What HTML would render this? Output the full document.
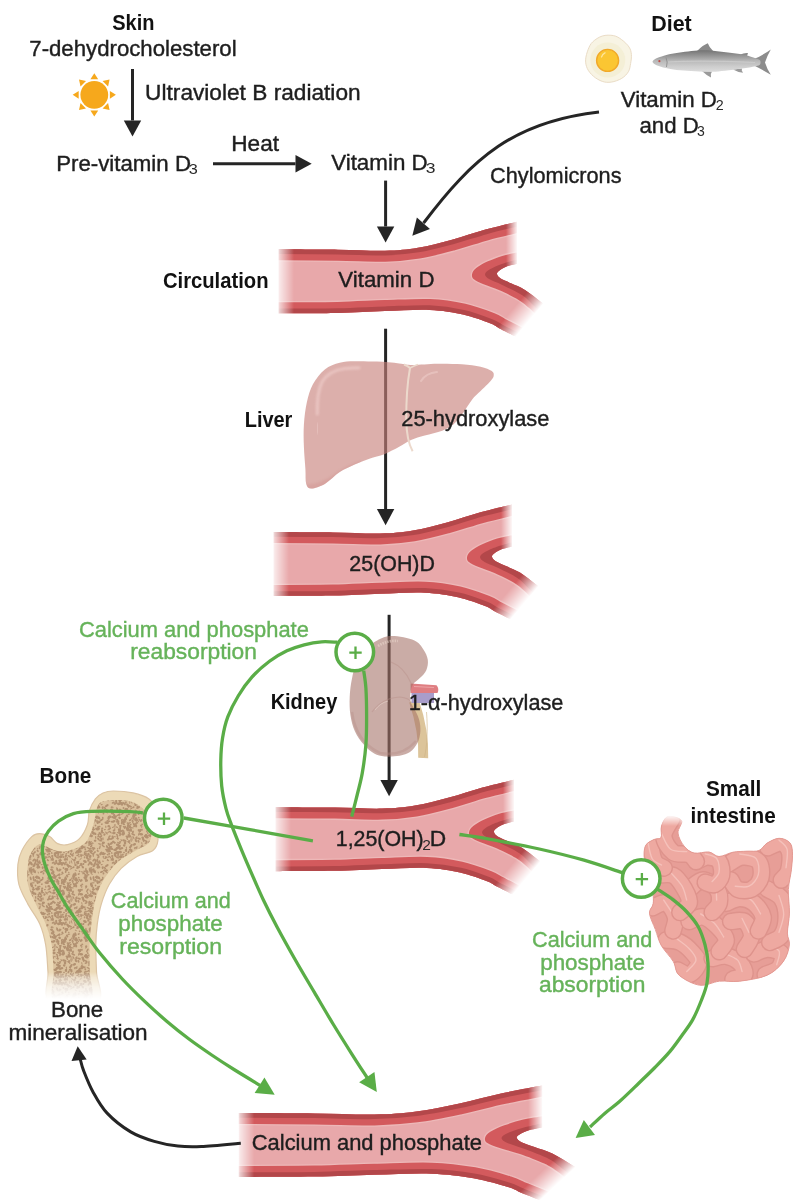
<!DOCTYPE html>
<html><head><meta charset="utf-8"><style>
html,body{margin:0;padding:0;background:#fff;}
svg{display:block;will-change:transform;}
text{font-family:"Liberation Sans",sans-serif;}
</style></head><body>
<svg width="806" height="1204" viewBox="0 0 806 1204">
<rect width="806" height="1204" fill="#fff"/>

<defs>
 <clipPath id="vc1"><path d="M278.00,249.30 C288.00,249.37 320.17,249.47 338.00,249.70 C355.83,249.93 371.67,251.03 385.00,250.70 C398.33,250.37 406.83,249.53 418.00,247.70 C429.17,245.87 440.75,242.72 452.00,239.70 C463.25,236.68 474.67,232.58 485.50,229.60 C496.33,226.62 511.75,223.10 517.00,221.80 L517.00,263.70 C515.17,264.20 508.97,265.53 506.00,266.70 C503.03,267.87 500.70,269.47 499.20,270.70 C497.70,271.93 496.75,272.78 497.00,274.10 C497.25,275.42 498.37,277.07 500.70,278.60 C503.03,280.13 506.95,281.42 511.00,283.30 C515.05,285.18 520.00,286.80 525.00,289.90 C530.00,293.00 536.33,298.33 541.00,301.90 C545.67,305.47 551.00,309.73 553.00,311.30 L548.00,353.30 C542.33,350.38 522.00,339.90 514.00,335.80 C506.00,331.70 504.00,330.78 500.00,328.70 C496.00,326.62 496.17,325.67 490.00,323.30 C483.83,320.93 473.05,316.72 463.00,314.50 C452.95,312.28 442.70,310.57 429.70,310.00 C416.70,309.43 400.28,310.62 385.00,311.10 C369.72,311.58 355.83,312.53 338.00,312.90 C320.17,313.27 288.00,313.23 278.00,313.30 Z"/></clipPath>
 <linearGradient id="vgl1" gradientUnits="userSpaceOnUse" x1="278.0" y1="0" x2="294.0" y2="0"><stop offset="0" stop-color="#000"/><stop offset="0.1" stop-color="#444"/><stop offset="1" stop-color="#fff"/></linearGradient>
 <linearGradient id="vgu1" gradientUnits="userSpaceOnUse" x1="506.0" y1="0" x2="518.0" y2="0"><stop offset="0" stop-color="#fff"/><stop offset="1" stop-color="#000"/></linearGradient>
 <linearGradient id="vgd1" gradientUnits="userSpaceOnUse" x1="513.5" y1="308.1" x2="528.8" y2="321.0"><stop offset="0" stop-color="#fff"/><stop offset="1" stop-color="#000"/></linearGradient>
 <mask id="vm1" maskUnits="userSpaceOnUse" x="0" y="0" width="806" height="1204">
  <rect x="273.0" y="209.3" width="130.0" height="150" fill="url(#vgl1)"/>
  <rect x="396.0" y="209.3" width="180.0" height="70.0" fill="url(#vgu1)"/>
  <rect x="396.0" y="274.3" width="180.0" height="90" fill="url(#vgd1)"/>
 </mask>
</defs>
<g mask="url(#vm1)"><g clip-path="url(#vc1)">
 <path d="M278.00,249.30 C288.00,249.37 320.17,249.47 338.00,249.70 C355.83,249.93 371.67,251.03 385.00,250.70 C398.33,250.37 406.83,249.53 418.00,247.70 C429.17,245.87 440.75,242.72 452.00,239.70 C463.25,236.68 474.67,232.58 485.50,229.60 C496.33,226.62 511.75,223.10 517.00,221.80 L517.00,263.70 C515.17,264.20 508.97,265.53 506.00,266.70 C503.03,267.87 500.70,269.47 499.20,270.70 C497.70,271.93 496.75,272.78 497.00,274.10 C497.25,275.42 498.37,277.07 500.70,278.60 C503.03,280.13 506.95,281.42 511.00,283.30 C515.05,285.18 520.00,286.80 525.00,289.90 C530.00,293.00 536.33,298.33 541.00,301.90 C545.67,305.47 551.00,309.73 553.00,311.30 L548.00,353.30 C542.33,350.38 522.00,339.90 514.00,335.80 C506.00,331.70 504.00,330.78 500.00,328.70 C496.00,326.62 496.17,325.67 490.00,323.30 C483.83,320.93 473.05,316.72 463.00,314.50 C452.95,312.28 442.70,310.57 429.70,310.00 C416.70,309.43 400.28,310.62 385.00,311.10 C369.72,311.58 355.83,312.53 338.00,312.90 C320.17,313.27 288.00,313.23 278.00,313.30 Z" fill="#e8a8aa"/>
 <path d="M264.00,249.21 L278.00,249.30 C288.00,249.37 320.17,249.47 338.00,249.70 C355.83,249.93 371.67,251.03 385.00,250.70 C398.33,250.37 406.83,249.53 418.00,247.70 C429.17,245.87 440.75,242.72 452.00,239.70 C463.25,236.68 474.67,232.58 485.50,229.60 C496.33,226.62 511.75,223.10 517.00,221.80 L530.59,218.43 M560.45,359.71 L548.00,353.30 C542.33,350.38 522.00,339.90 514.00,335.80 C506.00,331.70 504.00,330.78 500.00,328.70 C496.00,326.62 496.17,325.67 490.00,323.30 C483.83,320.93 473.05,316.72 463.00,314.50 C452.95,312.28 442.70,310.57 429.70,310.00 C416.70,309.43 400.28,310.62 385.00,311.10 C369.72,311.58 355.83,312.53 338.00,312.90 C320.17,313.27 288.00,313.23 278.00,313.30 L264.00,313.39" fill="none" stroke="#edb8b8" stroke-width="24.6"/>
 <path d="M264.00,249.21 L278.00,249.30 C288.00,249.37 320.17,249.47 338.00,249.70 C355.83,249.93 371.67,251.03 385.00,250.70 C398.33,250.37 406.83,249.53 418.00,247.70 C429.17,245.87 440.75,242.72 452.00,239.70 C463.25,236.68 474.67,232.58 485.50,229.60 C496.33,226.62 511.75,223.10 517.00,221.80 L530.59,218.43 M560.45,359.71 L548.00,353.30 C542.33,350.38 522.00,339.90 514.00,335.80 C506.00,331.70 504.00,330.78 500.00,328.70 C496.00,326.62 496.17,325.67 490.00,323.30 C483.83,320.93 473.05,316.72 463.00,314.50 C452.95,312.28 442.70,310.57 429.70,310.00 C416.70,309.43 400.28,310.62 385.00,311.10 C369.72,311.58 355.83,312.53 338.00,312.90 C320.17,313.27 288.00,313.23 278.00,313.30 L264.00,313.39" fill="none" stroke="#d35a5d" stroke-width="22"/>
 <path d="M264.00,249.21 L278.00,249.30 C288.00,249.37 320.17,249.47 338.00,249.70 C355.83,249.93 371.67,251.03 385.00,250.70 C398.33,250.37 406.83,249.53 418.00,247.70 C429.17,245.87 440.75,242.72 452.00,239.70 C463.25,236.68 474.67,232.58 485.50,229.60 C496.33,226.62 511.75,223.10 517.00,221.80 L530.59,218.43 M560.45,359.71 L548.00,353.30 C542.33,350.38 522.00,339.90 514.00,335.80 C506.00,331.70 504.00,330.78 500.00,328.70 C496.00,326.62 496.17,325.67 490.00,323.30 C483.83,320.93 473.05,316.72 463.00,314.50 C452.95,312.28 442.70,310.57 429.70,310.00 C416.70,309.43 400.28,310.62 385.00,311.10 C369.72,311.58 355.83,312.53 338.00,312.90 C320.17,313.27 288.00,313.23 278.00,313.30 L264.00,313.39" fill="none" stroke="#b3474a" stroke-width="9.4"/>
 <path d="M517.10,252.50 C514.62,253.07 507.17,254.38 502.20,255.90 C497.23,257.42 491.63,259.57 487.30,261.60 C482.97,263.63 478.73,266.02 476.20,268.10 C473.67,270.18 472.48,272.23 472.10,274.10 C471.72,275.97 471.98,277.60 473.90,279.30 C475.82,281.00 479.33,282.47 483.60,284.30 C487.87,286.13 493.67,287.70 499.50,290.30 C505.33,292.90 513.55,296.85 518.60,299.90 C523.65,302.95 526.23,305.37 529.80,308.60 C533.37,311.83 538.30,317.52 540.00,319.30" fill="none" stroke="#edb8b8" stroke-width="2.8"/>
 <path d="M598.00,232.50 L547.10,232.50 L517.10,252.50 C514.62,253.07 507.17,254.38 502.20,255.90 C497.23,257.42 491.63,259.57 487.30,261.60 C482.97,263.63 478.73,266.02 476.20,268.10 C473.67,270.18 472.48,272.23 472.10,274.10 C471.72,275.97 471.98,277.60 473.90,279.30 C475.82,281.00 479.33,282.47 483.60,284.30 C487.87,286.13 493.67,287.70 499.50,290.30 C505.33,292.90 513.55,296.85 518.60,299.90 C523.65,302.95 526.23,305.37 529.80,308.60 C533.37,311.83 538.30,317.52 540.00,319.30 L598.00,319.30 Z" fill="#d35a5d"/>
 <path d="M598.00,239.80 L547.00,239.80 L517.00,259.80 C516.28,259.95 515.78,259.80 512.70,260.70 C509.62,261.60 502.62,263.57 498.50,265.20 C494.38,266.83 490.23,268.88 488.00,270.50 C485.77,272.12 484.83,273.43 485.10,274.90 C485.37,276.37 486.75,277.63 489.60,279.30 C492.45,280.97 496.75,282.23 502.20,284.90 C507.65,287.57 517.08,291.85 522.30,295.30 C527.52,298.75 530.05,302.27 533.50,305.60 C536.95,308.93 541.42,313.68 543.00,315.30 L598.00,315.30 Z" fill="#b3474a"/>
</g></g>

<defs>
 <clipPath id="vc2"><path d="M273.00,532.00 C283.00,532.07 315.17,532.17 333.00,532.40 C350.83,532.63 366.67,533.73 380.00,533.40 C393.33,533.07 401.83,532.23 413.00,530.40 C424.17,528.57 435.75,525.42 447.00,522.40 C458.25,519.38 469.67,515.28 480.50,512.30 C491.33,509.32 506.75,505.80 512.00,504.50 L512.00,546.40 C510.17,546.90 503.97,548.23 501.00,549.40 C498.03,550.57 495.70,552.17 494.20,553.40 C492.70,554.63 491.75,555.48 492.00,556.80 C492.25,558.12 493.37,559.77 495.70,561.30 C498.03,562.83 501.95,564.12 506.00,566.00 C510.05,567.88 515.00,569.50 520.00,572.60 C525.00,575.70 531.33,581.03 536.00,584.60 C540.67,588.17 546.00,592.43 548.00,594.00 L543.00,636.00 C537.33,633.08 517.00,622.60 509.00,618.50 C501.00,614.40 499.00,613.48 495.00,611.40 C491.00,609.32 491.17,608.37 485.00,606.00 C478.83,603.63 468.05,599.42 458.00,597.20 C447.95,594.98 437.70,593.27 424.70,592.70 C411.70,592.13 395.28,593.32 380.00,593.80 C364.72,594.28 350.83,595.23 333.00,595.60 C315.17,595.97 283.00,595.93 273.00,596.00 Z"/></clipPath>
 <linearGradient id="vgl2" gradientUnits="userSpaceOnUse" x1="273.0" y1="0" x2="289.0" y2="0"><stop offset="0" stop-color="#000"/><stop offset="0.1" stop-color="#444"/><stop offset="1" stop-color="#fff"/></linearGradient>
 <linearGradient id="vgu2" gradientUnits="userSpaceOnUse" x1="501.0" y1="0" x2="513.0" y2="0"><stop offset="0" stop-color="#fff"/><stop offset="1" stop-color="#000"/></linearGradient>
 <linearGradient id="vgd2" gradientUnits="userSpaceOnUse" x1="508.5" y1="590.8" x2="523.8" y2="603.7"><stop offset="0" stop-color="#fff"/><stop offset="1" stop-color="#000"/></linearGradient>
 <mask id="vm2" maskUnits="userSpaceOnUse" x="0" y="0" width="806" height="1204">
  <rect x="268.0" y="492.0" width="130.0" height="150" fill="url(#vgl2)"/>
  <rect x="391.0" y="492.0" width="180.0" height="70.0" fill="url(#vgu2)"/>
  <rect x="391.0" y="557.0" width="180.0" height="90" fill="url(#vgd2)"/>
 </mask>
</defs>
<g mask="url(#vm2)"><g clip-path="url(#vc2)">
 <path d="M273.00,532.00 C283.00,532.07 315.17,532.17 333.00,532.40 C350.83,532.63 366.67,533.73 380.00,533.40 C393.33,533.07 401.83,532.23 413.00,530.40 C424.17,528.57 435.75,525.42 447.00,522.40 C458.25,519.38 469.67,515.28 480.50,512.30 C491.33,509.32 506.75,505.80 512.00,504.50 L512.00,546.40 C510.17,546.90 503.97,548.23 501.00,549.40 C498.03,550.57 495.70,552.17 494.20,553.40 C492.70,554.63 491.75,555.48 492.00,556.80 C492.25,558.12 493.37,559.77 495.70,561.30 C498.03,562.83 501.95,564.12 506.00,566.00 C510.05,567.88 515.00,569.50 520.00,572.60 C525.00,575.70 531.33,581.03 536.00,584.60 C540.67,588.17 546.00,592.43 548.00,594.00 L543.00,636.00 C537.33,633.08 517.00,622.60 509.00,618.50 C501.00,614.40 499.00,613.48 495.00,611.40 C491.00,609.32 491.17,608.37 485.00,606.00 C478.83,603.63 468.05,599.42 458.00,597.20 C447.95,594.98 437.70,593.27 424.70,592.70 C411.70,592.13 395.28,593.32 380.00,593.80 C364.72,594.28 350.83,595.23 333.00,595.60 C315.17,595.97 283.00,595.93 273.00,596.00 Z" fill="#e8a8aa"/>
 <path d="M259.00,531.91 L273.00,532.00 C283.00,532.07 315.17,532.17 333.00,532.40 C350.83,532.63 366.67,533.73 380.00,533.40 C393.33,533.07 401.83,532.23 413.00,530.40 C424.17,528.57 435.75,525.42 447.00,522.40 C458.25,519.38 469.67,515.28 480.50,512.30 C491.33,509.32 506.75,505.80 512.00,504.50 L525.59,501.13 M555.45,642.41 L543.00,636.00 C537.33,633.08 517.00,622.60 509.00,618.50 C501.00,614.40 499.00,613.48 495.00,611.40 C491.00,609.32 491.17,608.37 485.00,606.00 C478.83,603.63 468.05,599.42 458.00,597.20 C447.95,594.98 437.70,593.27 424.70,592.70 C411.70,592.13 395.28,593.32 380.00,593.80 C364.72,594.28 350.83,595.23 333.00,595.60 C315.17,595.97 283.00,595.93 273.00,596.00 L259.00,596.09" fill="none" stroke="#edb8b8" stroke-width="24.6"/>
 <path d="M259.00,531.91 L273.00,532.00 C283.00,532.07 315.17,532.17 333.00,532.40 C350.83,532.63 366.67,533.73 380.00,533.40 C393.33,533.07 401.83,532.23 413.00,530.40 C424.17,528.57 435.75,525.42 447.00,522.40 C458.25,519.38 469.67,515.28 480.50,512.30 C491.33,509.32 506.75,505.80 512.00,504.50 L525.59,501.13 M555.45,642.41 L543.00,636.00 C537.33,633.08 517.00,622.60 509.00,618.50 C501.00,614.40 499.00,613.48 495.00,611.40 C491.00,609.32 491.17,608.37 485.00,606.00 C478.83,603.63 468.05,599.42 458.00,597.20 C447.95,594.98 437.70,593.27 424.70,592.70 C411.70,592.13 395.28,593.32 380.00,593.80 C364.72,594.28 350.83,595.23 333.00,595.60 C315.17,595.97 283.00,595.93 273.00,596.00 L259.00,596.09" fill="none" stroke="#d35a5d" stroke-width="22"/>
 <path d="M259.00,531.91 L273.00,532.00 C283.00,532.07 315.17,532.17 333.00,532.40 C350.83,532.63 366.67,533.73 380.00,533.40 C393.33,533.07 401.83,532.23 413.00,530.40 C424.17,528.57 435.75,525.42 447.00,522.40 C458.25,519.38 469.67,515.28 480.50,512.30 C491.33,509.32 506.75,505.80 512.00,504.50 L525.59,501.13 M555.45,642.41 L543.00,636.00 C537.33,633.08 517.00,622.60 509.00,618.50 C501.00,614.40 499.00,613.48 495.00,611.40 C491.00,609.32 491.17,608.37 485.00,606.00 C478.83,603.63 468.05,599.42 458.00,597.20 C447.95,594.98 437.70,593.27 424.70,592.70 C411.70,592.13 395.28,593.32 380.00,593.80 C364.72,594.28 350.83,595.23 333.00,595.60 C315.17,595.97 283.00,595.93 273.00,596.00 L259.00,596.09" fill="none" stroke="#b3474a" stroke-width="9.4"/>
 <path d="M512.10,535.20 C509.62,535.77 502.17,537.08 497.20,538.60 C492.23,540.12 486.63,542.27 482.30,544.30 C477.97,546.33 473.73,548.72 471.20,550.80 C468.67,552.88 467.48,554.93 467.10,556.80 C466.72,558.67 466.98,560.30 468.90,562.00 C470.82,563.70 474.33,565.17 478.60,567.00 C482.87,568.83 488.67,570.40 494.50,573.00 C500.33,575.60 508.55,579.55 513.60,582.60 C518.65,585.65 521.23,588.07 524.80,591.30 C528.37,594.53 533.30,600.22 535.00,602.00" fill="none" stroke="#edb8b8" stroke-width="2.8"/>
 <path d="M593.00,515.20 L542.10,515.20 L512.10,535.20 C509.62,535.77 502.17,537.08 497.20,538.60 C492.23,540.12 486.63,542.27 482.30,544.30 C477.97,546.33 473.73,548.72 471.20,550.80 C468.67,552.88 467.48,554.93 467.10,556.80 C466.72,558.67 466.98,560.30 468.90,562.00 C470.82,563.70 474.33,565.17 478.60,567.00 C482.87,568.83 488.67,570.40 494.50,573.00 C500.33,575.60 508.55,579.55 513.60,582.60 C518.65,585.65 521.23,588.07 524.80,591.30 C528.37,594.53 533.30,600.22 535.00,602.00 L593.00,602.00 Z" fill="#d35a5d"/>
 <path d="M593.00,522.50 L542.00,522.50 L512.00,542.50 C511.28,542.65 510.78,542.50 507.70,543.40 C504.62,544.30 497.62,546.27 493.50,547.90 C489.38,549.53 485.23,551.58 483.00,553.20 C480.77,554.82 479.83,556.13 480.10,557.60 C480.37,559.07 481.75,560.33 484.60,562.00 C487.45,563.67 491.75,564.93 497.20,567.60 C502.65,570.27 512.08,574.55 517.30,578.00 C522.52,581.45 525.05,584.97 528.50,588.30 C531.95,591.63 536.42,596.38 538.00,598.00 L593.00,598.00 Z" fill="#b3474a"/>
</g></g>

<defs>
 <clipPath id="vc3"><path d="M275.00,807.20 C285.00,807.27 317.17,807.37 335.00,807.60 C352.83,807.83 368.67,808.93 382.00,808.60 C395.33,808.27 403.83,807.43 415.00,805.60 C426.17,803.77 437.75,800.62 449.00,797.60 C460.25,794.58 471.67,790.48 482.50,787.50 C493.33,784.52 508.75,781.00 514.00,779.70 L514.00,821.60 C512.17,822.10 505.97,823.43 503.00,824.60 C500.03,825.77 497.70,827.37 496.20,828.60 C494.70,829.83 493.75,830.68 494.00,832.00 C494.25,833.32 495.37,834.97 497.70,836.50 C500.03,838.03 503.95,839.32 508.00,841.20 C512.05,843.08 517.00,844.70 522.00,847.80 C527.00,850.90 533.33,856.23 538.00,859.80 C542.67,863.37 548.00,867.63 550.00,869.20 L545.00,911.20 C539.33,908.28 519.00,897.80 511.00,893.70 C503.00,889.60 501.00,888.68 497.00,886.60 C493.00,884.52 493.17,883.57 487.00,881.20 C480.83,878.83 470.05,874.62 460.00,872.40 C449.95,870.18 439.70,868.47 426.70,867.90 C413.70,867.33 397.28,868.52 382.00,869.00 C366.72,869.48 352.83,870.43 335.00,870.80 C317.17,871.17 285.00,871.13 275.00,871.20 Z"/></clipPath>
 <linearGradient id="vgl3" gradientUnits="userSpaceOnUse" x1="275.0" y1="0" x2="291.0" y2="0"><stop offset="0" stop-color="#000"/><stop offset="0.1" stop-color="#444"/><stop offset="1" stop-color="#fff"/></linearGradient>
 <linearGradient id="vgu3" gradientUnits="userSpaceOnUse" x1="503.0" y1="0" x2="515.0" y2="0"><stop offset="0" stop-color="#fff"/><stop offset="1" stop-color="#000"/></linearGradient>
 <linearGradient id="vgd3" gradientUnits="userSpaceOnUse" x1="510.5" y1="866.0" x2="525.8" y2="878.9"><stop offset="0" stop-color="#fff"/><stop offset="1" stop-color="#000"/></linearGradient>
 <mask id="vm3" maskUnits="userSpaceOnUse" x="0" y="0" width="806" height="1204">
  <rect x="270.0" y="767.2" width="130.0" height="150" fill="url(#vgl3)"/>
  <rect x="393.0" y="767.2" width="180.0" height="70.0" fill="url(#vgu3)"/>
  <rect x="393.0" y="832.2" width="180.0" height="90" fill="url(#vgd3)"/>
 </mask>
</defs>
<g mask="url(#vm3)"><g clip-path="url(#vc3)">
 <path d="M275.00,807.20 C285.00,807.27 317.17,807.37 335.00,807.60 C352.83,807.83 368.67,808.93 382.00,808.60 C395.33,808.27 403.83,807.43 415.00,805.60 C426.17,803.77 437.75,800.62 449.00,797.60 C460.25,794.58 471.67,790.48 482.50,787.50 C493.33,784.52 508.75,781.00 514.00,779.70 L514.00,821.60 C512.17,822.10 505.97,823.43 503.00,824.60 C500.03,825.77 497.70,827.37 496.20,828.60 C494.70,829.83 493.75,830.68 494.00,832.00 C494.25,833.32 495.37,834.97 497.70,836.50 C500.03,838.03 503.95,839.32 508.00,841.20 C512.05,843.08 517.00,844.70 522.00,847.80 C527.00,850.90 533.33,856.23 538.00,859.80 C542.67,863.37 548.00,867.63 550.00,869.20 L545.00,911.20 C539.33,908.28 519.00,897.80 511.00,893.70 C503.00,889.60 501.00,888.68 497.00,886.60 C493.00,884.52 493.17,883.57 487.00,881.20 C480.83,878.83 470.05,874.62 460.00,872.40 C449.95,870.18 439.70,868.47 426.70,867.90 C413.70,867.33 397.28,868.52 382.00,869.00 C366.72,869.48 352.83,870.43 335.00,870.80 C317.17,871.17 285.00,871.13 275.00,871.20 Z" fill="#e8a8aa"/>
 <path d="M261.00,807.11 L275.00,807.20 C285.00,807.27 317.17,807.37 335.00,807.60 C352.83,807.83 368.67,808.93 382.00,808.60 C395.33,808.27 403.83,807.43 415.00,805.60 C426.17,803.77 437.75,800.62 449.00,797.60 C460.25,794.58 471.67,790.48 482.50,787.50 C493.33,784.52 508.75,781.00 514.00,779.70 L527.59,776.33 M557.45,917.61 L545.00,911.20 C539.33,908.28 519.00,897.80 511.00,893.70 C503.00,889.60 501.00,888.68 497.00,886.60 C493.00,884.52 493.17,883.57 487.00,881.20 C480.83,878.83 470.05,874.62 460.00,872.40 C449.95,870.18 439.70,868.47 426.70,867.90 C413.70,867.33 397.28,868.52 382.00,869.00 C366.72,869.48 352.83,870.43 335.00,870.80 C317.17,871.17 285.00,871.13 275.00,871.20 L261.00,871.29" fill="none" stroke="#edb8b8" stroke-width="24.6"/>
 <path d="M261.00,807.11 L275.00,807.20 C285.00,807.27 317.17,807.37 335.00,807.60 C352.83,807.83 368.67,808.93 382.00,808.60 C395.33,808.27 403.83,807.43 415.00,805.60 C426.17,803.77 437.75,800.62 449.00,797.60 C460.25,794.58 471.67,790.48 482.50,787.50 C493.33,784.52 508.75,781.00 514.00,779.70 L527.59,776.33 M557.45,917.61 L545.00,911.20 C539.33,908.28 519.00,897.80 511.00,893.70 C503.00,889.60 501.00,888.68 497.00,886.60 C493.00,884.52 493.17,883.57 487.00,881.20 C480.83,878.83 470.05,874.62 460.00,872.40 C449.95,870.18 439.70,868.47 426.70,867.90 C413.70,867.33 397.28,868.52 382.00,869.00 C366.72,869.48 352.83,870.43 335.00,870.80 C317.17,871.17 285.00,871.13 275.00,871.20 L261.00,871.29" fill="none" stroke="#d35a5d" stroke-width="22"/>
 <path d="M261.00,807.11 L275.00,807.20 C285.00,807.27 317.17,807.37 335.00,807.60 C352.83,807.83 368.67,808.93 382.00,808.60 C395.33,808.27 403.83,807.43 415.00,805.60 C426.17,803.77 437.75,800.62 449.00,797.60 C460.25,794.58 471.67,790.48 482.50,787.50 C493.33,784.52 508.75,781.00 514.00,779.70 L527.59,776.33 M557.45,917.61 L545.00,911.20 C539.33,908.28 519.00,897.80 511.00,893.70 C503.00,889.60 501.00,888.68 497.00,886.60 C493.00,884.52 493.17,883.57 487.00,881.20 C480.83,878.83 470.05,874.62 460.00,872.40 C449.95,870.18 439.70,868.47 426.70,867.90 C413.70,867.33 397.28,868.52 382.00,869.00 C366.72,869.48 352.83,870.43 335.00,870.80 C317.17,871.17 285.00,871.13 275.00,871.20 L261.00,871.29" fill="none" stroke="#b3474a" stroke-width="9.4"/>
 <path d="M514.10,810.40 C511.62,810.97 504.17,812.28 499.20,813.80 C494.23,815.32 488.63,817.47 484.30,819.50 C479.97,821.53 475.73,823.92 473.20,826.00 C470.67,828.08 469.48,830.13 469.10,832.00 C468.72,833.87 468.98,835.50 470.90,837.20 C472.82,838.90 476.33,840.37 480.60,842.20 C484.87,844.03 490.67,845.60 496.50,848.20 C502.33,850.80 510.55,854.75 515.60,857.80 C520.65,860.85 523.23,863.27 526.80,866.50 C530.37,869.73 535.30,875.42 537.00,877.20" fill="none" stroke="#edb8b8" stroke-width="2.8"/>
 <path d="M595.00,790.40 L544.10,790.40 L514.10,810.40 C511.62,810.97 504.17,812.28 499.20,813.80 C494.23,815.32 488.63,817.47 484.30,819.50 C479.97,821.53 475.73,823.92 473.20,826.00 C470.67,828.08 469.48,830.13 469.10,832.00 C468.72,833.87 468.98,835.50 470.90,837.20 C472.82,838.90 476.33,840.37 480.60,842.20 C484.87,844.03 490.67,845.60 496.50,848.20 C502.33,850.80 510.55,854.75 515.60,857.80 C520.65,860.85 523.23,863.27 526.80,866.50 C530.37,869.73 535.30,875.42 537.00,877.20 L595.00,877.20 Z" fill="#d35a5d"/>
 <path d="M595.00,797.70 L544.00,797.70 L514.00,817.70 C513.28,817.85 512.78,817.70 509.70,818.60 C506.62,819.50 499.62,821.47 495.50,823.10 C491.38,824.73 487.23,826.78 485.00,828.40 C482.77,830.02 481.83,831.33 482.10,832.80 C482.37,834.27 483.75,835.53 486.60,837.20 C489.45,838.87 493.75,840.13 499.20,842.80 C504.65,845.47 514.08,849.75 519.30,853.20 C524.52,856.65 527.05,860.17 530.50,863.50 C533.95,866.83 538.42,871.58 540.00,873.20 L595.00,873.20 Z" fill="#b3474a"/>
</g></g>

<defs>
 <clipPath id="vc4"><path d="M238.20,1113.00 C250.92,1113.07 291.84,1113.17 314.52,1113.40 C337.20,1113.63 357.34,1114.73 374.30,1114.40 C391.26,1114.07 402.08,1113.23 416.28,1111.40 C430.48,1109.57 445.22,1106.42 459.53,1103.40 C473.84,1100.38 488.36,1096.28 502.14,1093.30 C515.92,1090.32 535.53,1086.80 542.21,1085.50 L542.21,1127.40 C539.88,1127.90 531.99,1129.23 528.22,1130.40 C524.44,1131.57 521.47,1133.17 519.57,1134.40 C517.66,1135.63 516.45,1136.48 516.77,1137.80 C517.09,1139.12 518.51,1140.77 521.47,1142.30 C524.44,1143.83 529.42,1145.12 534.58,1147.00 C539.73,1148.88 546.02,1150.50 552.38,1153.60 C558.74,1156.70 566.80,1162.03 572.74,1165.60 C578.67,1169.17 585.46,1173.43 588.00,1175.00 L581.64,1217.00 C574.43,1214.08 548.57,1203.60 538.39,1199.50 C528.22,1195.40 525.67,1194.48 520.58,1192.40 C515.50,1190.32 515.71,1189.37 507.86,1187.00 C500.02,1184.63 486.30,1180.42 473.52,1178.20 C460.74,1175.98 447.70,1174.27 431.16,1173.70 C414.63,1173.13 393.74,1174.32 374.30,1174.80 C354.86,1175.28 337.20,1176.23 314.52,1176.60 C291.84,1176.97 250.92,1176.93 238.20,1177.00 Z"/></clipPath>
 <linearGradient id="vgl4" gradientUnits="userSpaceOnUse" x1="238.2" y1="0" x2="254.2" y2="0"><stop offset="0" stop-color="#000"/><stop offset="0.1" stop-color="#444"/><stop offset="1" stop-color="#fff"/></linearGradient>
 <linearGradient id="vgu4" gradientUnits="userSpaceOnUse" x1="528.2" y1="0" x2="543.2" y2="0"><stop offset="0" stop-color="#fff"/><stop offset="1" stop-color="#000"/></linearGradient>
 <linearGradient id="vgd4" gradientUnits="userSpaceOnUse" x1="542.7" y1="1170.4" x2="556.3" y2="1185.0"><stop offset="0" stop-color="#fff"/><stop offset="1" stop-color="#000"/></linearGradient>
 <mask id="vm4" maskUnits="userSpaceOnUse" x="0" y="0" width="806" height="1204">
  <rect x="233.2" y="1073.0" width="164.0" height="150" fill="url(#vgl4)"/>
  <rect x="388.3" y="1073.0" width="229.0" height="70.0" fill="url(#vgu4)"/>
  <rect x="388.3" y="1138.0" width="229.0" height="90" fill="url(#vgd4)"/>
 </mask>
</defs>
<g mask="url(#vm4)"><g clip-path="url(#vc4)">
 <path d="M238.20,1113.00 C250.92,1113.07 291.84,1113.17 314.52,1113.40 C337.20,1113.63 357.34,1114.73 374.30,1114.40 C391.26,1114.07 402.08,1113.23 416.28,1111.40 C430.48,1109.57 445.22,1106.42 459.53,1103.40 C473.84,1100.38 488.36,1096.28 502.14,1093.30 C515.92,1090.32 535.53,1086.80 542.21,1085.50 L542.21,1127.40 C539.88,1127.90 531.99,1129.23 528.22,1130.40 C524.44,1131.57 521.47,1133.17 519.57,1134.40 C517.66,1135.63 516.45,1136.48 516.77,1137.80 C517.09,1139.12 518.51,1140.77 521.47,1142.30 C524.44,1143.83 529.42,1145.12 534.58,1147.00 C539.73,1148.88 546.02,1150.50 552.38,1153.60 C558.74,1156.70 566.80,1162.03 572.74,1165.60 C578.67,1169.17 585.46,1173.43 588.00,1175.00 L581.64,1217.00 C574.43,1214.08 548.57,1203.60 538.39,1199.50 C528.22,1195.40 525.67,1194.48 520.58,1192.40 C515.50,1190.32 515.71,1189.37 507.86,1187.00 C500.02,1184.63 486.30,1180.42 473.52,1178.20 C460.74,1175.98 447.70,1174.27 431.16,1173.70 C414.63,1173.13 393.74,1174.32 374.30,1174.80 C354.86,1175.28 337.20,1176.23 314.52,1176.60 C291.84,1176.97 250.92,1176.93 238.20,1177.00 Z" fill="#e8a8aa"/>
 <path d="M224.20,1112.93 L238.20,1113.00 C250.92,1113.07 291.84,1113.17 314.52,1113.40 C337.20,1113.63 357.34,1114.73 374.30,1114.40 C391.26,1114.07 402.08,1113.23 416.28,1111.40 C430.48,1109.57 445.22,1106.42 459.53,1103.40 C473.84,1100.38 488.36,1096.28 502.14,1093.30 C515.92,1090.32 535.53,1086.80 542.21,1085.50 L555.95,1082.82 M594.62,1222.25 L581.64,1217.00 C574.43,1214.08 548.57,1203.60 538.39,1199.50 C528.22,1195.40 525.67,1194.48 520.58,1192.40 C515.50,1190.32 515.71,1189.37 507.86,1187.00 C500.02,1184.63 486.30,1180.42 473.52,1178.20 C460.74,1175.98 447.70,1174.27 431.16,1173.70 C414.63,1173.13 393.74,1174.32 374.30,1174.80 C354.86,1175.28 337.20,1176.23 314.52,1176.60 C291.84,1176.97 250.92,1176.93 238.20,1177.00 L224.20,1177.07" fill="none" stroke="#edb8b8" stroke-width="24.6"/>
 <path d="M224.20,1112.93 L238.20,1113.00 C250.92,1113.07 291.84,1113.17 314.52,1113.40 C337.20,1113.63 357.34,1114.73 374.30,1114.40 C391.26,1114.07 402.08,1113.23 416.28,1111.40 C430.48,1109.57 445.22,1106.42 459.53,1103.40 C473.84,1100.38 488.36,1096.28 502.14,1093.30 C515.92,1090.32 535.53,1086.80 542.21,1085.50 L555.95,1082.82 M594.62,1222.25 L581.64,1217.00 C574.43,1214.08 548.57,1203.60 538.39,1199.50 C528.22,1195.40 525.67,1194.48 520.58,1192.40 C515.50,1190.32 515.71,1189.37 507.86,1187.00 C500.02,1184.63 486.30,1180.42 473.52,1178.20 C460.74,1175.98 447.70,1174.27 431.16,1173.70 C414.63,1173.13 393.74,1174.32 374.30,1174.80 C354.86,1175.28 337.20,1176.23 314.52,1176.60 C291.84,1176.97 250.92,1176.93 238.20,1177.00 L224.20,1177.07" fill="none" stroke="#d35a5d" stroke-width="22"/>
 <path d="M224.20,1112.93 L238.20,1113.00 C250.92,1113.07 291.84,1113.17 314.52,1113.40 C337.20,1113.63 357.34,1114.73 374.30,1114.40 C391.26,1114.07 402.08,1113.23 416.28,1111.40 C430.48,1109.57 445.22,1106.42 459.53,1103.40 C473.84,1100.38 488.36,1096.28 502.14,1093.30 C515.92,1090.32 535.53,1086.80 542.21,1085.50 L555.95,1082.82 M594.62,1222.25 L581.64,1217.00 C574.43,1214.08 548.57,1203.60 538.39,1199.50 C528.22,1195.40 525.67,1194.48 520.58,1192.40 C515.50,1190.32 515.71,1189.37 507.86,1187.00 C500.02,1184.63 486.30,1180.42 473.52,1178.20 C460.74,1175.98 447.70,1174.27 431.16,1173.70 C414.63,1173.13 393.74,1174.32 374.30,1174.80 C354.86,1175.28 337.20,1176.23 314.52,1176.60 C291.84,1176.97 250.92,1176.93 238.20,1177.00 L224.20,1177.07" fill="none" stroke="#b3474a" stroke-width="9.4"/>
 <path d="M542.34,1116.20 C539.18,1116.77 529.70,1118.08 523.38,1119.60 C517.06,1121.12 509.94,1123.27 504.43,1125.30 C498.92,1127.33 493.53,1129.72 490.31,1131.80 C487.09,1133.88 485.58,1135.93 485.10,1137.80 C484.61,1139.67 484.95,1141.30 487.38,1143.00 C489.82,1144.70 494.30,1146.17 499.72,1148.00 C505.15,1149.83 512.53,1151.40 519.95,1154.00 C527.37,1156.60 537.82,1160.55 544.24,1163.60 C550.67,1166.65 553.95,1169.07 558.49,1172.30 C563.03,1175.53 569.30,1181.22 571.46,1183.00" fill="none" stroke="#edb8b8" stroke-width="2.8"/>
 <path d="M645.24,1096.20 L572.34,1096.20 L542.34,1116.20 C539.18,1116.77 529.70,1118.08 523.38,1119.60 C517.06,1121.12 509.94,1123.27 504.43,1125.30 C498.92,1127.33 493.53,1129.72 490.31,1131.80 C487.09,1133.88 485.58,1135.93 485.10,1137.80 C484.61,1139.67 484.95,1141.30 487.38,1143.00 C489.82,1144.70 494.30,1146.17 499.72,1148.00 C505.15,1149.83 512.53,1151.40 519.95,1154.00 C527.37,1156.60 537.82,1160.55 544.24,1163.60 C550.67,1166.65 553.95,1169.07 558.49,1172.30 C563.03,1175.53 569.30,1181.22 571.46,1183.00 L645.24,1183.00 Z" fill="#d35a5d"/>
 <path d="M645.24,1103.50 L572.21,1103.50 L542.21,1123.50 C541.30,1123.65 540.66,1123.50 536.74,1124.40 C532.82,1125.30 523.91,1127.27 518.68,1128.90 C513.44,1130.53 508.16,1132.58 505.32,1134.20 C502.48,1135.82 501.29,1137.13 501.63,1138.60 C501.97,1140.07 503.73,1141.33 507.36,1143.00 C510.98,1144.67 516.45,1145.93 523.38,1148.60 C530.31,1151.27 542.31,1155.55 548.95,1159.00 C555.59,1162.45 558.81,1165.97 563.20,1169.30 C567.58,1172.63 573.27,1177.38 575.28,1179.00 L645.24,1179.00 Z" fill="#b3474a"/>
</g></g>
<path d="M132.5,69 L132.5,120.5" stroke="#252525" stroke-width="3" fill="none"/><path d="M132.50,136.50 L123.80,120.50 L141.20,120.50 Z" fill="#252525"/>
<path d="M213,163.8 L295.5,163.8" stroke="#252525" stroke-width="3" fill="none"/><path d="M311.70,163.80 L295.50,172.50 L295.50,155.10 Z" fill="#252525"/>
<path d="M385.6,180.6 L385.6,226.5" stroke="#252525" stroke-width="3" fill="none"/><path d="M385.60,242.60 L376.90,226.50 L394.30,226.50 Z" fill="#252525"/>
<path d="M385.6,328.7 L385.6,509" stroke="#252525" stroke-width="3" fill="none"/><path d="M385.60,525.20 L376.90,509.00 L394.30,509.00 Z" fill="#252525"/>
<path d="M389.1,614.8 L389.1,780" stroke="#252525" stroke-width="3" fill="none"/><path d="M389.10,796.20 L380.40,780.00 L397.80,780.00 Z" fill="#252525"/>
<path d="M599.0,112.0 C514.1,121.6 472.9,157.6 423.6,223.0" stroke="#252525" stroke-width="3" fill="none"/>
<path d="M412.30,235.80 L416.87,217.45 L429.93,228.95 Z" fill="#252525"/>
<path d="M240.80,1143.30 C234.23,1143.85 211.88,1146.13 201.40,1146.60 C190.92,1147.07 185.75,1146.97 177.90,1146.10 C170.05,1145.23 162.17,1143.77 154.30,1141.40 C146.43,1139.03 138.57,1136.62 130.70,1131.90 C122.83,1127.18 113.38,1119.77 107.10,1113.10 C100.82,1106.43 96.92,1098.98 93.00,1091.90 C89.08,1084.82 85.73,1076.08 83.60,1070.60 C81.47,1065.12 80.77,1060.93 80.20,1059.00" stroke="#252525" stroke-width="3" fill="none"/>
<path d="M77.70,1046.30 L86.66,1059.44 L71.54,1060.96 Z" fill="#252525"/>
<g><circle cx="94.3" cy="94.8" r="13.9" fill="#f6a81c"/><path d="M94.30,73.20 L98.20,79.20 L90.40,79.20 Z" fill="#f6a81c"/><path d="M109.57,79.53 L108.09,86.53 L102.57,81.01 Z" fill="#f6a81c"/><path d="M115.90,94.80 L109.90,98.70 L109.90,90.90 Z" fill="#f6a81c"/><path d="M109.57,110.07 L102.57,108.59 L108.09,103.07 Z" fill="#f6a81c"/><path d="M94.30,116.40 L90.40,110.40 L98.20,110.40 Z" fill="#f6a81c"/><path d="M79.03,110.07 L80.51,103.07 L86.03,108.59 Z" fill="#f6a81c"/><path d="M72.70,94.80 L78.70,90.90 L78.70,98.70 Z" fill="#f6a81c"/><path d="M79.03,79.53 L86.03,81.01 L80.51,86.53 Z" fill="#f6a81c"/></g>
<path d="M602.30,36.00 C605.77,34.95 610.27,34.98 613.50,35.60 C616.73,36.22 619.10,37.78 621.70,39.70 C624.30,41.62 627.48,44.62 629.10,47.10 C630.72,49.58 631.15,51.87 631.40,54.60 C631.65,57.33 631.10,60.65 630.60,63.50 C630.10,66.35 629.88,69.22 628.40,71.70 C626.92,74.18 624.55,76.67 621.70,78.40 C618.85,80.13 614.53,81.60 611.30,82.10 C608.07,82.60 605.28,82.38 602.30,81.40 C599.32,80.42 595.88,78.32 593.40,76.20 C590.92,74.08 588.70,71.43 587.40,68.70 C586.10,65.97 585.47,63.02 585.60,59.80 C585.73,56.58 587.02,52.38 588.20,49.40 C589.38,46.42 590.35,44.13 592.70,41.90 C595.05,39.67 598.83,37.05 602.30,36.00 Z" fill="#f8f4e4" stroke="#eadcc6" stroke-width="1"/>
<circle cx="607.8" cy="60" r="17.5" fill="#f4efd6"/>
<circle cx="607.6" cy="60.4" r="11" fill="#fbc632" stroke="#f1a92a" stroke-width="1.4"/>
<path d="M601.5,57 Q602.5,54 605,52.8" stroke="#fde49a" stroke-width="1.3" fill="none" stroke-linecap="round"/>
<defs><linearGradient id="fishg" x1="0" y1="0" x2="0" y2="1">
<stop offset="0" stop-color="#747474"/><stop offset="0.3" stop-color="#9c9c9c"/><stop offset="0.5" stop-color="#b9b9b9"/><stop offset="0.75" stop-color="#cdcdcd"/><stop offset="1" stop-color="#dcdcdc"/></linearGradient></defs>
<path d="M697,51 Q703,45 707.8,43.2 Q709,47 713.5,51.5 Z" fill="#8a8a8a"/>
<path d="M740,54.8 Q744,52.5 748,53 L747,56 Z" fill="#8a8a8a"/>
<path d="M702,71 Q706,75 711,77.5 Q710,74 712,71.5 Z" fill="#9a9a9a"/>
<path d="M733,69.6 Q738,72.5 743,72.8 Q741,70 742,68.4 Z" fill="#9a9a9a"/>
<path d="M755,58.6 Q763,55 770.8,49.4 Q767,56 765,62.5 Q767,69 770.8,74.8 Q763,70 755,66 Z" fill="#8c8c8c"/>
<path d="M652.50,61.80 C652.50,60.72 654.47,59.40 656.00,58.50 C657.53,57.60 659.03,57.18 661.70,56.40 C664.37,55.62 668.12,54.57 672.00,53.80 C675.88,53.03 680.67,52.37 685.00,51.80 C689.33,51.23 693.33,50.57 698.00,50.40 C702.67,50.23 707.67,50.40 713.00,50.80 C718.33,51.20 724.67,52.10 730.00,52.80 C735.33,53.50 740.75,54.08 745.00,55.00 C749.25,55.92 753.00,57.42 755.50,58.30 C758.00,59.18 759.25,59.28 760.00,60.30 C760.75,61.32 760.75,63.42 760.00,64.40 C759.25,65.38 758.50,65.50 755.50,66.20 C752.50,66.90 747.08,67.83 742.00,68.60 C736.92,69.37 730.00,70.27 725.00,70.80 C720.00,71.33 717.00,71.73 712.00,71.80 C707.00,71.87 700.33,71.47 695.00,71.20 C689.67,70.93 684.50,70.67 680.00,70.20 C675.50,69.73 671.05,68.95 668.00,68.40 C664.95,67.85 663.70,67.47 661.70,66.90 C659.70,66.33 657.53,65.85 656.00,65.00 C654.47,64.15 652.50,62.88 652.50,61.80 Z" fill="url(#fishg)"/>
<path d="M666,57.5 Q668,62 666.5,67" stroke="#8d8d8d" stroke-width="0.9" fill="none"/>
<path d="M668,62 Q700,60 755,62.5" stroke="#d0d0d0" stroke-width="1.2" fill="none" opacity="0.7"/>
<circle cx="659.4" cy="61.2" r="1.1" fill="#c0504a"/>
<path d="M303.90,424.40 C304.40,416.95 305.40,408.80 306.90,402.10 C308.40,395.40 309.92,389.65 312.90,384.20 C315.88,378.75 320.33,372.98 324.80,369.40 C329.27,365.82 334.73,364.07 339.70,362.70 C344.67,361.33 348.40,361.38 354.60,361.20 C360.80,361.02 369.47,361.23 376.90,361.60 C384.33,361.97 393.28,362.85 399.20,363.40 C405.12,363.95 406.07,364.85 412.40,364.90 C418.73,364.95 428.93,363.80 437.20,363.70 C445.47,363.60 454.77,363.78 462.00,364.30 C469.23,364.82 475.63,365.67 480.60,366.80 C485.57,367.93 489.62,369.60 491.80,371.10 C493.98,372.60 493.90,374.15 493.70,375.80 C493.50,377.45 492.78,378.47 490.60,381.00 C488.42,383.53 483.70,387.88 480.60,391.00 C477.50,394.12 475.10,395.77 472.00,399.70 C468.90,403.63 465.12,410.47 462.00,414.60 C458.88,418.73 456.60,421.82 453.30,424.50 C450.00,427.18 446.95,428.85 442.20,430.70 C437.45,432.55 430.00,434.05 424.80,435.60 C419.60,437.15 415.27,438.13 411.00,440.00 C406.73,441.87 403.65,444.43 399.20,446.80 C394.75,449.17 389.27,452.22 384.30,454.20 C379.33,456.18 374.35,456.97 369.40,458.70 C364.45,460.43 359.55,462.37 354.60,464.60 C349.65,466.83 344.67,468.87 339.70,472.10 C334.73,475.33 329.52,481.27 324.80,484.00 C320.08,486.73 314.50,488.50 311.40,488.50 C308.30,488.50 307.20,487.23 306.20,484.00 C305.20,480.77 305.78,475.30 305.40,469.10 C305.02,462.90 304.15,454.25 303.90,446.80 C303.65,439.35 303.40,431.85 303.90,424.40 Z" fill="#c7807a" fill-opacity="0.63"/>
<path d="M421,381 Q426,373 437,372" stroke="#e8c4c1" stroke-width="2" fill="none" opacity="0.8" stroke-linecap="round"/>
<defs><filter id="lblur" x="-20%" y="-20%" width="140%" height="140%"><feGaussianBlur stdDeviation="0.8"/></filter></defs><path d="M317.3,414 C317,400 318,390 322,382 C326,375 334,370 345,368.5 C350,368 355,367.6 359,367.9" stroke="#ebc7c4" stroke-width="3.2" fill="none" opacity="0.85" filter="url(#lblur)" stroke-linecap="round"/>
<path d="M317.5,424 L317.8,433" stroke="#ebc7c4" stroke-width="2.6" fill="none" opacity="0.8" filter="url(#lblur)" stroke-linecap="round"/>
<defs><clipPath id="liverc"><path d="M303.90,424.40 C304.40,416.95 305.40,408.80 306.90,402.10 C308.40,395.40 309.92,389.65 312.90,384.20 C315.88,378.75 320.33,372.98 324.80,369.40 C329.27,365.82 334.73,364.07 339.70,362.70 C344.67,361.33 348.40,361.38 354.60,361.20 C360.80,361.02 369.47,361.23 376.90,361.60 C384.33,361.97 393.28,362.85 399.20,363.40 C405.12,363.95 406.07,364.85 412.40,364.90 C418.73,364.95 428.93,363.80 437.20,363.70 C445.47,363.60 454.77,363.78 462.00,364.30 C469.23,364.82 475.63,365.67 480.60,366.80 C485.57,367.93 489.62,369.60 491.80,371.10 C493.98,372.60 493.90,374.15 493.70,375.80 C493.50,377.45 492.78,378.47 490.60,381.00 C488.42,383.53 483.70,387.88 480.60,391.00 C477.50,394.12 475.10,395.77 472.00,399.70 C468.90,403.63 465.12,410.47 462.00,414.60 C458.88,418.73 456.60,421.82 453.30,424.50 C450.00,427.18 446.95,428.85 442.20,430.70 C437.45,432.55 430.00,434.05 424.80,435.60 C419.60,437.15 415.27,438.13 411.00,440.00 C406.73,441.87 403.65,444.43 399.20,446.80 C394.75,449.17 389.27,452.22 384.30,454.20 C379.33,456.18 374.35,456.97 369.40,458.70 C364.45,460.43 359.55,462.37 354.60,464.60 C349.65,466.83 344.67,468.87 339.70,472.10 C334.73,475.33 329.52,481.27 324.80,484.00 C320.08,486.73 314.50,488.50 311.40,488.50 C308.30,488.50 307.20,487.23 306.20,484.00 C305.20,480.77 305.78,475.30 305.40,469.10 C305.02,462.90 304.15,454.25 303.90,446.80 C303.65,439.35 303.40,431.85 303.90,424.40 Z"/></clipPath></defs><g clip-path="url(#liverc)"><path d="M306,488 Q322,488 338,476 Q350,468 362,464" stroke="#d39a96" stroke-width="7" fill="none" opacity="0.55" filter="url(#lblur)"/></g>
<path d="M404,364.5 Q408,366 410,368 Q406,390 406.3,420 Q406.5,440 412.6,451.2" stroke="#ecd9cc" stroke-width="2" fill="none"/>
<path d="M410,368 Q414,366 418,364.6" stroke="#ecd9cc" stroke-width="1.6" fill="none"/>
<path d="M414,701 C419,716 424,738 423.2,758" stroke="#dcc49a" stroke-width="10" fill="none"/>
<path d="M426.5,712 C428,730 427,746 424.5,757" stroke="#cdb385" stroke-width="1" fill="none" opacity="0.6"/>
<path d="M411.5,692.3 L434,692.3 L434,703 L411.5,703 Z" fill="#a99dcb"/>
<path d="M410.6,683.4 L436.5,685.3 Q439.5,689 437.5,692.9 L410.6,692.9 Z" fill="#df7e82"/>
<path d="M414,686.5 L434,687.5" stroke="#eda4a6" stroke-width="1.2"/>
<path d="M392.00,636.00 C385.80,636.00 381.65,638.17 377.20,640.40 C372.75,642.63 368.77,645.67 365.30,649.40 C361.83,653.13 358.63,657.85 356.40,662.80 C354.17,667.75 353.02,673.40 351.90,679.10 C350.78,684.80 349.95,691.03 349.70,697.00 C349.45,702.97 349.53,709.20 350.40,714.90 C351.27,720.60 352.67,726.25 354.90,731.20 C357.13,736.15 360.58,740.87 363.80,744.60 C367.02,748.33 370.72,751.62 374.20,753.60 C377.68,755.58 380.47,756.13 384.70,756.50 C388.93,756.87 395.38,756.53 399.60,755.80 C403.82,755.07 407.03,754.22 410.00,752.10 C412.97,749.98 415.67,746.58 417.40,743.10 C419.13,739.62 420.13,735.17 420.40,731.20 C420.67,727.23 420.00,723.00 419.00,719.30 C418.00,715.60 415.82,711.97 414.40,709.00 C412.98,706.03 411.15,704.25 410.50,701.50 C409.85,698.75 410.08,695.33 410.50,692.50 C410.92,689.67 411.35,686.98 413.00,684.50 C414.65,682.02 418.18,679.98 420.40,677.60 C422.62,675.22 425.07,673.17 426.30,670.20 C427.53,667.23 428.28,663.27 427.80,659.80 C427.32,656.33 425.63,652.63 423.40,649.40 C421.17,646.17 419.63,642.63 414.40,640.40 C409.17,638.17 398.20,636.00 392.00,636.00 Z" fill="#a57268" fill-opacity="0.59"/>
<path d="M352,712 Q356,742 380,753 Q402,757 416,741" stroke="#b58a84" stroke-width="2.5" fill="none" opacity="0.35"/>
<path d="M378,646 Q388,640 398,641" stroke="#e9d6cc" stroke-width="2.6" fill="none" opacity="0.6" stroke-dasharray="1.5 1"/>
<path d="M391,662 Q404,667 411,683 M372,712 Q382,698 400,697 Q409,698 411,702" stroke="#b8908a" stroke-width="1.2" fill="none" opacity="0.45"/>
<path d="M375,710 Q380,703 388,701" stroke="#ead7cf" stroke-width="0.9" fill="none" opacity="0.6"/>
<defs>
<pattern id="spong" patternUnits="userSpaceOnUse" width="60" height="60"><rect width="60" height="60" fill="#dbc29e"/><g fill="#b29171"><ellipse cx="19.4" cy="9.1" rx="1.7" ry="0.6" transform="rotate(96 19.4 9.1)"/><ellipse cx="21.9" cy="3.5" rx="1.5" ry="0.5" transform="rotate(78 21.9 3.5)"/><ellipse cx="4.2" cy="5.4" rx="1.3" ry="1.2" transform="rotate(22 4.2 5.4)"/><ellipse cx="13.4" cy="37.6" rx="2.1" ry="1.0" transform="rotate(71 13.4 37.6)"/><ellipse cx="-1.4" cy="2.8" rx="2.0" ry="0.7" transform="rotate(26 -1.4 2.8)"/><ellipse cx="-1.4" cy="62.8" rx="2.0" ry="0.7" transform="rotate(26 -1.4 62.8)"/><ellipse cx="58.6" cy="2.8" rx="2.0" ry="0.7" transform="rotate(26 58.6 2.8)"/><ellipse cx="58.6" cy="62.8" rx="2.0" ry="0.7" transform="rotate(26 58.6 62.8)"/><ellipse cx="7.1" cy="18.5" rx="1.9" ry="0.6" transform="rotate(105 7.1 18.5)"/><ellipse cx="38.3" cy="22.3" rx="1.5" ry="0.6" transform="rotate(11 38.3 22.3)"/><ellipse cx="12.4" cy="40.8" rx="1.3" ry="0.8" transform="rotate(105 12.4 40.8)"/><ellipse cx="27.2" cy="18.0" rx="1.9" ry="1.1" transform="rotate(44 27.2 18.0)"/><ellipse cx="34.5" cy="31.5" rx="2.0" ry="1.1" transform="rotate(52 34.5 31.5)"/><ellipse cx="-1.2" cy="7.1" rx="1.3" ry="1.1" transform="rotate(27 -1.2 7.1)"/><ellipse cx="58.8" cy="7.1" rx="1.3" ry="1.1" transform="rotate(27 58.8 7.1)"/><ellipse cx="29.3" cy="2.4" rx="1.7" ry="1.1" transform="rotate(103 29.3 2.4)"/><ellipse cx="29.3" cy="62.4" rx="1.7" ry="1.1" transform="rotate(103 29.3 62.4)"/><ellipse cx="52.5" cy="18.8" rx="1.7" ry="1.0" transform="rotate(104 52.5 18.8)"/><ellipse cx="27.4" cy="50.4" rx="2.1" ry="0.9" transform="rotate(120 27.4 50.4)"/><ellipse cx="3.6" cy="42.1" rx="1.7" ry="1.3" transform="rotate(148 3.6 42.1)"/><ellipse cx="17.1" cy="23.1" rx="1.7" ry="0.5" transform="rotate(83 17.1 23.1)"/><ellipse cx="10.1" cy="7.0" rx="0.8" ry="1.1" transform="rotate(23 10.1 7.0)"/><ellipse cx="14.9" cy="23.5" rx="2.0" ry="0.6" transform="rotate(81 14.9 23.5)"/><ellipse cx="33.0" cy="53.0" rx="1.9" ry="1.2" transform="rotate(50 33.0 53.0)"/><ellipse cx="24.9" cy="21.5" rx="2.0" ry="1.3" transform="rotate(27 24.9 21.5)"/><ellipse cx="10.6" cy="13.9" rx="1.1" ry="0.9" transform="rotate(106 10.6 13.9)"/><ellipse cx="15.8" cy="0.2" rx="1.3" ry="0.8" transform="rotate(102 15.8 0.2)"/><ellipse cx="15.8" cy="60.2" rx="1.3" ry="0.8" transform="rotate(102 15.8 60.2)"/><ellipse cx="-2.8" cy="41.4" rx="1.5" ry="1.0" transform="rotate(122 -2.8 41.4)"/><ellipse cx="57.2" cy="41.4" rx="1.5" ry="1.0" transform="rotate(122 57.2 41.4)"/><ellipse cx="3.2" cy="54.0" rx="1.9" ry="1.2" transform="rotate(144 3.2 54.0)"/><ellipse cx="23.5" cy="23.9" rx="0.9" ry="1.0" transform="rotate(11 23.5 23.9)"/><ellipse cx="4.0" cy="12.5" rx="0.9" ry="0.8" transform="rotate(9 4.0 12.5)"/><ellipse cx="0.0" cy="9.1" rx="0.9" ry="0.8" transform="rotate(5 0.0 9.1)"/><ellipse cx="60.0" cy="9.1" rx="0.9" ry="0.8" transform="rotate(5 60.0 9.1)"/><ellipse cx="52.5" cy="36.8" rx="0.9" ry="0.7" transform="rotate(63 52.5 36.8)"/><ellipse cx="21.8" cy="7.4" rx="2.0" ry="1.3" transform="rotate(84 21.8 7.4)"/><ellipse cx="29.0" cy="5.2" rx="0.9" ry="0.8" transform="rotate(48 29.0 5.2)"/><ellipse cx="49.7" cy="9.7" rx="0.7" ry="1.3" transform="rotate(95 49.7 9.7)"/><ellipse cx="8.8" cy="32.6" rx="0.7" ry="0.9" transform="rotate(176 8.8 32.6)"/><ellipse cx="51.8" cy="41.8" rx="1.1" ry="0.8" transform="rotate(30 51.8 41.8)"/><ellipse cx="46.3" cy="32.0" rx="1.9" ry="0.8" transform="rotate(40 46.3 32.0)"/><ellipse cx="48.7" cy="-0.9" rx="2.0" ry="1.1" transform="rotate(147 48.7 -0.9)"/><ellipse cx="48.7" cy="59.1" rx="2.0" ry="1.1" transform="rotate(147 48.7 59.1)"/><ellipse cx="44.4" cy="13.6" rx="1.5" ry="0.8" transform="rotate(5 44.4 13.6)"/><ellipse cx="1.7" cy="16.8" rx="1.1" ry="1.1" transform="rotate(172 1.7 16.8)"/><ellipse cx="61.7" cy="16.8" rx="1.1" ry="1.1" transform="rotate(172 61.7 16.8)"/><ellipse cx="26.8" cy="56.2" rx="2.2" ry="1.3" transform="rotate(66 26.8 56.2)"/><ellipse cx="13.2" cy="13.6" rx="1.0" ry="0.7" transform="rotate(112 13.2 13.6)"/><ellipse cx="54.0" cy="50.4" rx="1.4" ry="1.0" transform="rotate(144 54.0 50.4)"/><ellipse cx="5.1" cy="39.6" rx="2.1" ry="1.1" transform="rotate(135 5.1 39.6)"/><ellipse cx="28.7" cy="10.7" rx="1.9" ry="0.8" transform="rotate(144 28.7 10.7)"/><ellipse cx="-1.7" cy="23.8" rx="1.3" ry="1.3" transform="rotate(130 -1.7 23.8)"/><ellipse cx="58.3" cy="23.8" rx="1.3" ry="1.3" transform="rotate(130 58.3 23.8)"/><ellipse cx="10.2" cy="7.6" rx="0.9" ry="1.2" transform="rotate(145 10.2 7.6)"/><ellipse cx="8.8" cy="49.6" rx="2.2" ry="1.0" transform="rotate(63 8.8 49.6)"/><ellipse cx="32.9" cy="7.9" rx="0.7" ry="1.3" transform="rotate(117 32.9 7.9)"/><ellipse cx="31.6" cy="56.0" rx="1.4" ry="1.2" transform="rotate(149 31.6 56.0)"/><ellipse cx="12.7" cy="15.1" rx="1.1" ry="0.7" transform="rotate(106 12.7 15.1)"/><ellipse cx="15.6" cy="25.1" rx="0.9" ry="1.2" transform="rotate(64 15.6 25.1)"/><ellipse cx="27.5" cy="35.0" rx="2.1" ry="0.8" transform="rotate(165 27.5 35.0)"/><ellipse cx="30.1" cy="31.9" rx="1.5" ry="0.5" transform="rotate(79 30.1 31.9)"/><ellipse cx="11.0" cy="0.2" rx="1.9" ry="0.6" transform="rotate(85 11.0 0.2)"/><ellipse cx="11.0" cy="60.2" rx="1.9" ry="0.6" transform="rotate(85 11.0 60.2)"/><ellipse cx="43.5" cy="33.4" rx="1.2" ry="0.9" transform="rotate(100 43.5 33.4)"/><ellipse cx="47.1" cy="6.4" rx="1.5" ry="0.7" transform="rotate(50 47.1 6.4)"/><ellipse cx="46.3" cy="30.5" rx="1.5" ry="1.1" transform="rotate(164 46.3 30.5)"/><ellipse cx="26.6" cy="36.8" rx="1.5" ry="0.9" transform="rotate(125 26.6 36.8)"/><ellipse cx="27.1" cy="32.0" rx="1.4" ry="1.3" transform="rotate(126 27.1 32.0)"/><ellipse cx="52.6" cy="56.5" rx="1.1" ry="0.9" transform="rotate(170 52.6 56.5)"/><ellipse cx="50.4" cy="8.2" rx="0.9" ry="0.9" transform="rotate(13 50.4 8.2)"/><ellipse cx="14.4" cy="4.4" rx="1.7" ry="1.1" transform="rotate(161 14.4 4.4)"/><ellipse cx="9.3" cy="43.0" rx="1.7" ry="0.6" transform="rotate(159 9.3 43.0)"/><ellipse cx="-1.9" cy="13.2" rx="2.1" ry="0.8" transform="rotate(88 -1.9 13.2)"/><ellipse cx="58.1" cy="13.2" rx="2.1" ry="0.8" transform="rotate(88 58.1 13.2)"/><ellipse cx="-0.6" cy="49.9" rx="0.9" ry="0.8" transform="rotate(93 -0.6 49.9)"/><ellipse cx="59.4" cy="49.9" rx="0.9" ry="0.8" transform="rotate(93 59.4 49.9)"/><ellipse cx="20.3" cy="11.7" rx="1.2" ry="1.1" transform="rotate(4 20.3 11.7)"/><ellipse cx="33.2" cy="26.4" rx="0.7" ry="0.8" transform="rotate(112 33.2 26.4)"/><ellipse cx="30.7" cy="3.9" rx="2.2" ry="1.1" transform="rotate(175 30.7 3.9)"/><ellipse cx="6.3" cy="15.9" rx="0.8" ry="1.1" transform="rotate(49 6.3 15.9)"/><ellipse cx="7.8" cy="25.3" rx="2.1" ry="1.2" transform="rotate(47 7.8 25.3)"/><ellipse cx="9.0" cy="55.2" rx="1.6" ry="1.1" transform="rotate(16 9.0 55.2)"/><ellipse cx="3.5" cy="41.3" rx="1.3" ry="0.6" transform="rotate(169 3.5 41.3)"/><ellipse cx="38.1" cy="48.1" rx="0.8" ry="1.2" transform="rotate(12 38.1 48.1)"/><ellipse cx="51.8" cy="27.2" rx="1.2" ry="0.9" transform="rotate(167 51.8 27.2)"/><ellipse cx="16.1" cy="7.8" rx="1.5" ry="0.7" transform="rotate(20 16.1 7.8)"/><ellipse cx="9.7" cy="3.0" rx="1.0" ry="0.7" transform="rotate(55 9.7 3.0)"/><ellipse cx="45.6" cy="17.4" rx="1.5" ry="0.6" transform="rotate(62 45.6 17.4)"/><ellipse cx="1.1" cy="15.0" rx="0.7" ry="1.1" transform="rotate(99 1.1 15.0)"/><ellipse cx="61.1" cy="15.0" rx="0.7" ry="1.1" transform="rotate(99 61.1 15.0)"/><ellipse cx="11.4" cy="28.5" rx="2.1" ry="0.6" transform="rotate(147 11.4 28.5)"/><ellipse cx="25.9" cy="29.7" rx="2.0" ry="0.8" transform="rotate(91 25.9 29.7)"/><ellipse cx="41.3" cy="-1.1" rx="1.2" ry="1.2" transform="rotate(127 41.3 -1.1)"/><ellipse cx="41.3" cy="58.9" rx="1.2" ry="1.2" transform="rotate(127 41.3 58.9)"/><ellipse cx="38.2" cy="24.3" rx="1.2" ry="0.5" transform="rotate(23 38.2 24.3)"/><ellipse cx="4.2" cy="44.5" rx="1.1" ry="0.6" transform="rotate(15 4.2 44.5)"/><ellipse cx="50.5" cy="52.2" rx="1.7" ry="0.7" transform="rotate(44 50.5 52.2)"/><ellipse cx="17.6" cy="27.6" rx="0.9" ry="0.9" transform="rotate(47 17.6 27.6)"/><ellipse cx="-2.3" cy="-1.6" rx="1.5" ry="0.7" transform="rotate(174 -2.3 -1.6)"/><ellipse cx="-2.3" cy="58.4" rx="1.5" ry="0.7" transform="rotate(174 -2.3 58.4)"/><ellipse cx="57.7" cy="-1.6" rx="1.5" ry="0.7" transform="rotate(174 57.7 -1.6)"/><ellipse cx="57.7" cy="58.4" rx="1.5" ry="0.7" transform="rotate(174 57.7 58.4)"/><ellipse cx="18.6" cy="21.4" rx="0.7" ry="0.8" transform="rotate(85 18.6 21.4)"/><ellipse cx="30.2" cy="12.1" rx="1.5" ry="0.5" transform="rotate(48 30.2 12.1)"/><ellipse cx="5.4" cy="24.0" rx="0.8" ry="0.5" transform="rotate(55 5.4 24.0)"/><ellipse cx="14.0" cy="35.1" rx="1.5" ry="1.1" transform="rotate(118 14.0 35.1)"/><ellipse cx="43.0" cy="52.7" rx="1.3" ry="0.8" transform="rotate(177 43.0 52.7)"/><ellipse cx="9.0" cy="43.4" rx="1.7" ry="0.5" transform="rotate(150 9.0 43.4)"/><ellipse cx="53.5" cy="37.6" rx="1.8" ry="1.1" transform="rotate(25 53.5 37.6)"/><ellipse cx="31.4" cy="30.3" rx="2.0" ry="1.1" transform="rotate(149 31.4 30.3)"/><ellipse cx="35.0" cy="53.6" rx="1.7" ry="1.1" transform="rotate(41 35.0 53.6)"/><ellipse cx="1.9" cy="8.0" rx="1.2" ry="0.6" transform="rotate(150 1.9 8.0)"/><ellipse cx="61.9" cy="8.0" rx="1.2" ry="0.6" transform="rotate(150 61.9 8.0)"/><ellipse cx="33.5" cy="37.7" rx="1.6" ry="1.0" transform="rotate(88 33.5 37.7)"/><ellipse cx="0.2" cy="47.9" rx="1.8" ry="0.9" transform="rotate(96 0.2 47.9)"/><ellipse cx="60.2" cy="47.9" rx="1.8" ry="0.9" transform="rotate(96 60.2 47.9)"/><ellipse cx="39.6" cy="4.0" rx="1.8" ry="0.7" transform="rotate(13 39.6 4.0)"/><ellipse cx="15.9" cy="43.8" rx="1.0" ry="1.1" transform="rotate(176 15.9 43.8)"/><ellipse cx="29.6" cy="23.0" rx="1.4" ry="1.0" transform="rotate(138 29.6 23.0)"/><ellipse cx="37.0" cy="38.6" rx="0.8" ry="0.6" transform="rotate(46 37.0 38.6)"/><ellipse cx="44.6" cy="18.3" rx="1.6" ry="0.5" transform="rotate(11 44.6 18.3)"/><ellipse cx="16.1" cy="40.3" rx="1.7" ry="1.0" transform="rotate(52 16.1 40.3)"/><ellipse cx="31.0" cy="27.9" rx="1.4" ry="0.6" transform="rotate(161 31.0 27.9)"/><ellipse cx="12.0" cy="-1.3" rx="2.1" ry="0.5" transform="rotate(83 12.0 -1.3)"/><ellipse cx="12.0" cy="58.7" rx="2.1" ry="0.5" transform="rotate(83 12.0 58.7)"/><ellipse cx="49.2" cy="-1.9" rx="1.4" ry="0.7" transform="rotate(38 49.2 -1.9)"/><ellipse cx="49.2" cy="58.1" rx="1.4" ry="0.7" transform="rotate(38 49.2 58.1)"/><ellipse cx="56.7" cy="12.6" rx="1.6" ry="0.6" transform="rotate(94 56.7 12.6)"/><ellipse cx="-2.8" cy="8.0" rx="1.9" ry="0.9" transform="rotate(160 -2.8 8.0)"/><ellipse cx="57.2" cy="8.0" rx="1.9" ry="0.9" transform="rotate(160 57.2 8.0)"/><ellipse cx="42.2" cy="13.9" rx="2.0" ry="0.9" transform="rotate(4 42.2 13.9)"/><ellipse cx="0.2" cy="29.5" rx="1.4" ry="0.7" transform="rotate(25 0.2 29.5)"/><ellipse cx="60.2" cy="29.5" rx="1.4" ry="0.7" transform="rotate(25 60.2 29.5)"/><ellipse cx="20.6" cy="19.0" rx="2.0" ry="0.5" transform="rotate(135 20.6 19.0)"/><ellipse cx="50.3" cy="7.2" rx="2.1" ry="1.1" transform="rotate(162 50.3 7.2)"/><ellipse cx="17.4" cy="22.3" rx="1.3" ry="1.3" transform="rotate(106 17.4 22.3)"/><ellipse cx="21.6" cy="25.7" rx="1.1" ry="0.5" transform="rotate(18 21.6 25.7)"/><ellipse cx="50.1" cy="17.1" rx="2.1" ry="0.7" transform="rotate(48 50.1 17.1)"/><ellipse cx="30.7" cy="11.4" rx="1.3" ry="1.3" transform="rotate(159 30.7 11.4)"/><ellipse cx="48.7" cy="37.9" rx="2.1" ry="1.3" transform="rotate(99 48.7 37.9)"/><ellipse cx="43.2" cy="3.0" rx="1.8" ry="0.9" transform="rotate(135 43.2 3.0)"/><ellipse cx="43.2" cy="63.0" rx="1.8" ry="0.9" transform="rotate(135 43.2 63.0)"/><ellipse cx="38.7" cy="17.2" rx="0.8" ry="1.2" transform="rotate(23 38.7 17.2)"/><ellipse cx="28.3" cy="20.6" rx="1.1" ry="1.1" transform="rotate(176 28.3 20.6)"/><ellipse cx="15.6" cy="39.4" rx="1.2" ry="0.9" transform="rotate(71 15.6 39.4)"/><ellipse cx="10.0" cy="9.7" rx="1.0" ry="1.2" transform="rotate(89 10.0 9.7)"/><ellipse cx="13.2" cy="54.4" rx="2.2" ry="0.9" transform="rotate(25 13.2 54.4)"/><ellipse cx="11.5" cy="5.4" rx="1.2" ry="0.6" transform="rotate(43 11.5 5.4)"/><ellipse cx="15.5" cy="34.2" rx="2.0" ry="1.1" transform="rotate(74 15.5 34.2)"/><ellipse cx="24.8" cy="31.5" rx="1.3" ry="0.8" transform="rotate(11 24.8 31.5)"/><ellipse cx="16.7" cy="-1.9" rx="0.9" ry="0.9" transform="rotate(113 16.7 -1.9)"/><ellipse cx="16.7" cy="58.1" rx="0.9" ry="0.9" transform="rotate(113 16.7 58.1)"/><ellipse cx="51.8" cy="13.0" rx="1.1" ry="0.7" transform="rotate(72 51.8 13.0)"/><ellipse cx="26.8" cy="-2.8" rx="2.0" ry="1.2" transform="rotate(4 26.8 -2.8)"/><ellipse cx="26.8" cy="57.2" rx="2.0" ry="1.2" transform="rotate(4 26.8 57.2)"/><ellipse cx="1.9" cy="42.6" rx="2.0" ry="0.9" transform="rotate(106 1.9 42.6)"/><ellipse cx="61.9" cy="42.6" rx="2.0" ry="0.9" transform="rotate(106 61.9 42.6)"/><ellipse cx="0.0" cy="23.5" rx="2.1" ry="1.2" transform="rotate(154 0.0 23.5)"/><ellipse cx="60.0" cy="23.5" rx="2.1" ry="1.2" transform="rotate(154 60.0 23.5)"/><ellipse cx="-1.7" cy="14.9" rx="0.9" ry="0.6" transform="rotate(94 -1.7 14.9)"/><ellipse cx="58.3" cy="14.9" rx="0.9" ry="0.6" transform="rotate(94 58.3 14.9)"/><ellipse cx="40.9" cy="56.5" rx="1.8" ry="1.0" transform="rotate(138 40.9 56.5)"/><ellipse cx="27.4" cy="33.1" rx="0.8" ry="1.1" transform="rotate(42 27.4 33.1)"/><ellipse cx="55.2" cy="38.7" rx="1.2" ry="0.6" transform="rotate(45 55.2 38.7)"/><ellipse cx="38.2" cy="41.9" rx="0.9" ry="0.6" transform="rotate(94 38.2 41.9)"/><ellipse cx="35.0" cy="23.3" rx="1.0" ry="1.0" transform="rotate(2 35.0 23.3)"/><ellipse cx="18.1" cy="27.6" rx="2.1" ry="1.0" transform="rotate(159 18.1 27.6)"/><ellipse cx="28.5" cy="14.1" rx="1.1" ry="1.3" transform="rotate(127 28.5 14.1)"/><ellipse cx="18.4" cy="1.3" rx="1.4" ry="1.0" transform="rotate(76 18.4 1.3)"/><ellipse cx="18.4" cy="61.3" rx="1.4" ry="1.0" transform="rotate(76 18.4 61.3)"/><ellipse cx="15.4" cy="40.0" rx="2.1" ry="0.7" transform="rotate(6 15.4 40.0)"/><ellipse cx="20.3" cy="25.2" rx="1.7" ry="0.7" transform="rotate(143 20.3 25.2)"/><ellipse cx="44.3" cy="30.3" rx="1.0" ry="1.3" transform="rotate(56 44.3 30.3)"/><ellipse cx="49.2" cy="13.8" rx="1.0" ry="1.1" transform="rotate(53 49.2 13.8)"/><ellipse cx="-2.9" cy="29.7" rx="1.0" ry="0.7" transform="rotate(75 -2.9 29.7)"/><ellipse cx="57.1" cy="29.7" rx="1.0" ry="0.7" transform="rotate(75 57.1 29.7)"/><ellipse cx="39.9" cy="56.9" rx="0.9" ry="0.8" transform="rotate(38 39.9 56.9)"/><ellipse cx="-1.6" cy="8.5" rx="0.8" ry="0.5" transform="rotate(71 -1.6 8.5)"/><ellipse cx="58.4" cy="8.5" rx="0.8" ry="0.5" transform="rotate(71 58.4 8.5)"/><ellipse cx="53.9" cy="53.0" rx="1.8" ry="1.3" transform="rotate(168 53.9 53.0)"/><ellipse cx="19.8" cy="11.1" rx="2.1" ry="1.1" transform="rotate(6 19.8 11.1)"/><ellipse cx="39.9" cy="22.7" rx="1.3" ry="0.8" transform="rotate(30 39.9 22.7)"/><ellipse cx="0.2" cy="16.8" rx="1.2" ry="1.3" transform="rotate(22 0.2 16.8)"/><ellipse cx="60.2" cy="16.8" rx="1.2" ry="1.3" transform="rotate(22 60.2 16.8)"/><ellipse cx="-2.1" cy="12.4" rx="1.2" ry="1.2" transform="rotate(148 -2.1 12.4)"/><ellipse cx="57.9" cy="12.4" rx="1.2" ry="1.2" transform="rotate(148 57.9 12.4)"/><ellipse cx="25.9" cy="3.0" rx="1.4" ry="0.8" transform="rotate(166 25.9 3.0)"/><ellipse cx="25.9" cy="63.0" rx="1.4" ry="0.8" transform="rotate(166 25.9 63.0)"/><ellipse cx="11.6" cy="21.9" rx="2.0" ry="0.5" transform="rotate(74 11.6 21.9)"/><ellipse cx="48.7" cy="46.0" rx="0.8" ry="0.5" transform="rotate(11 48.7 46.0)"/><ellipse cx="55.2" cy="15.4" rx="1.8" ry="1.2" transform="rotate(61 55.2 15.4)"/><ellipse cx="16.3" cy="-2.5" rx="1.6" ry="0.7" transform="rotate(129 16.3 -2.5)"/><ellipse cx="16.3" cy="57.5" rx="1.6" ry="0.7" transform="rotate(129 16.3 57.5)"/><ellipse cx="19.0" cy="16.5" rx="0.7" ry="1.1" transform="rotate(165 19.0 16.5)"/><ellipse cx="38.0" cy="56.6" rx="0.7" ry="0.7" transform="rotate(86 38.0 56.6)"/><ellipse cx="-2.6" cy="-2.8" rx="1.3" ry="0.7" transform="rotate(77 -2.6 -2.8)"/><ellipse cx="-2.6" cy="57.2" rx="1.3" ry="0.7" transform="rotate(77 -2.6 57.2)"/><ellipse cx="57.4" cy="-2.8" rx="1.3" ry="0.7" transform="rotate(77 57.4 -2.8)"/><ellipse cx="57.4" cy="57.2" rx="1.3" ry="0.7" transform="rotate(77 57.4 57.2)"/><ellipse cx="29.6" cy="55.7" rx="1.0" ry="1.1" transform="rotate(133 29.6 55.7)"/><ellipse cx="49.4" cy="46.4" rx="1.6" ry="0.8" transform="rotate(58 49.4 46.4)"/><ellipse cx="21.7" cy="46.9" rx="0.8" ry="0.7" transform="rotate(136 21.7 46.9)"/><ellipse cx="14.8" cy="3.9" rx="0.8" ry="0.9" transform="rotate(59 14.8 3.9)"/><ellipse cx="-1.2" cy="53.0" rx="2.2" ry="0.7" transform="rotate(15 -1.2 53.0)"/><ellipse cx="58.8" cy="53.0" rx="2.2" ry="0.7" transform="rotate(15 58.8 53.0)"/><ellipse cx="5.8" cy="29.9" rx="1.8" ry="0.9" transform="rotate(42 5.8 29.9)"/><ellipse cx="25.0" cy="37.2" rx="1.7" ry="1.1" transform="rotate(152 25.0 37.2)"/><ellipse cx="39.9" cy="7.3" rx="2.0" ry="0.7" transform="rotate(102 39.9 7.3)"/><ellipse cx="22.4" cy="44.3" rx="1.0" ry="0.7" transform="rotate(44 22.4 44.3)"/><ellipse cx="9.2" cy="53.1" rx="1.6" ry="0.8" transform="rotate(71 9.2 53.1)"/><ellipse cx="-0.5" cy="30.4" rx="1.0" ry="1.1" transform="rotate(118 -0.5 30.4)"/><ellipse cx="59.5" cy="30.4" rx="1.0" ry="1.1" transform="rotate(118 59.5 30.4)"/><ellipse cx="-0.5" cy="6.1" rx="1.4" ry="1.2" transform="rotate(151 -0.5 6.1)"/><ellipse cx="59.5" cy="6.1" rx="1.4" ry="1.2" transform="rotate(151 59.5 6.1)"/><ellipse cx="54.9" cy="2.4" rx="1.1" ry="0.6" transform="rotate(34 54.9 2.4)"/><ellipse cx="54.9" cy="62.4" rx="1.1" ry="0.6" transform="rotate(34 54.9 62.4)"/><ellipse cx="-1.6" cy="35.0" rx="2.1" ry="0.8" transform="rotate(156 -1.6 35.0)"/><ellipse cx="58.4" cy="35.0" rx="2.1" ry="0.8" transform="rotate(156 58.4 35.0)"/><ellipse cx="26.9" cy="15.6" rx="1.9" ry="1.3" transform="rotate(19 26.9 15.6)"/><ellipse cx="35.8" cy="37.2" rx="1.0" ry="0.8" transform="rotate(25 35.8 37.2)"/><ellipse cx="12.2" cy="15.3" rx="1.6" ry="1.0" transform="rotate(37 12.2 15.3)"/><ellipse cx="0.7" cy="19.6" rx="1.7" ry="0.6" transform="rotate(56 0.7 19.6)"/><ellipse cx="60.7" cy="19.6" rx="1.7" ry="0.6" transform="rotate(56 60.7 19.6)"/><ellipse cx="12.2" cy="47.7" rx="1.5" ry="0.6" transform="rotate(18 12.2 47.7)"/><ellipse cx="23.7" cy="33.0" rx="1.7" ry="0.6" transform="rotate(29 23.7 33.0)"/><ellipse cx="41.7" cy="24.6" rx="1.1" ry="0.7" transform="rotate(172 41.7 24.6)"/><ellipse cx="18.7" cy="34.0" rx="1.2" ry="0.8" transform="rotate(156 18.7 34.0)"/><ellipse cx="-0.2" cy="21.8" rx="1.0" ry="1.1" transform="rotate(37 -0.2 21.8)"/><ellipse cx="59.8" cy="21.8" rx="1.0" ry="1.1" transform="rotate(37 59.8 21.8)"/><ellipse cx="0.4" cy="54.1" rx="1.3" ry="1.2" transform="rotate(73 0.4 54.1)"/><ellipse cx="60.4" cy="54.1" rx="1.3" ry="1.2" transform="rotate(73 60.4 54.1)"/><ellipse cx="53.0" cy="27.7" rx="0.9" ry="0.5" transform="rotate(99 53.0 27.7)"/><ellipse cx="38.4" cy="54.6" rx="0.8" ry="1.0" transform="rotate(67 38.4 54.6)"/><ellipse cx="30.3" cy="8.8" rx="1.1" ry="0.9" transform="rotate(167 30.3 8.8)"/><ellipse cx="6.5" cy="29.4" rx="1.9" ry="1.3" transform="rotate(36 6.5 29.4)"/><ellipse cx="7.6" cy="56.6" rx="2.2" ry="0.9" transform="rotate(10 7.6 56.6)"/><ellipse cx="55.6" cy="23.3" rx="2.1" ry="1.0" transform="rotate(148 55.6 23.3)"/><ellipse cx="9.6" cy="47.1" rx="1.0" ry="0.8" transform="rotate(152 9.6 47.1)"/><ellipse cx="49.8" cy="11.0" rx="1.0" ry="0.8" transform="rotate(93 49.8 11.0)"/><ellipse cx="23.0" cy="7.4" rx="1.1" ry="1.1" transform="rotate(162 23.0 7.4)"/><ellipse cx="2.5" cy="33.7" rx="1.8" ry="0.5" transform="rotate(151 2.5 33.7)"/><ellipse cx="62.5" cy="33.7" rx="1.8" ry="0.5" transform="rotate(151 62.5 33.7)"/><ellipse cx="7.1" cy="36.0" rx="1.5" ry="1.0" transform="rotate(55 7.1 36.0)"/><ellipse cx="25.2" cy="35.0" rx="1.3" ry="1.0" transform="rotate(80 25.2 35.0)"/><ellipse cx="26.3" cy="1.4" rx="1.6" ry="0.9" transform="rotate(42 26.3 1.4)"/><ellipse cx="26.3" cy="61.4" rx="1.6" ry="0.9" transform="rotate(42 26.3 61.4)"/><ellipse cx="45.8" cy="46.8" rx="1.4" ry="0.6" transform="rotate(85 45.8 46.8)"/><ellipse cx="6.4" cy="7.7" rx="1.3" ry="0.6" transform="rotate(80 6.4 7.7)"/><ellipse cx="30.6" cy="2.4" rx="1.7" ry="0.6" transform="rotate(132 30.6 2.4)"/><ellipse cx="30.6" cy="62.4" rx="1.7" ry="0.6" transform="rotate(132 30.6 62.4)"/><ellipse cx="46.7" cy="30.7" rx="0.8" ry="0.9" transform="rotate(68 46.7 30.7)"/><ellipse cx="-2.9" cy="8.2" rx="2.0" ry="1.3" transform="rotate(132 -2.9 8.2)"/><ellipse cx="57.1" cy="8.2" rx="2.0" ry="1.3" transform="rotate(132 57.1 8.2)"/><ellipse cx="48.9" cy="11.6" rx="2.2" ry="0.9" transform="rotate(172 48.9 11.6)"/><ellipse cx="55.0" cy="9.9" rx="1.9" ry="1.2" transform="rotate(12 55.0 9.9)"/><ellipse cx="21.1" cy="45.4" rx="0.9" ry="1.2" transform="rotate(49 21.1 45.4)"/><ellipse cx="48.9" cy="8.6" rx="1.5" ry="1.2" transform="rotate(37 48.9 8.6)"/><ellipse cx="15.8" cy="30.4" rx="1.2" ry="0.5" transform="rotate(33 15.8 30.4)"/><ellipse cx="9.7" cy="56.2" rx="1.7" ry="1.2" transform="rotate(30 9.7 56.2)"/><ellipse cx="47.1" cy="6.9" rx="1.5" ry="1.0" transform="rotate(65 47.1 6.9)"/><ellipse cx="52.4" cy="33.3" rx="1.6" ry="1.2" transform="rotate(19 52.4 33.3)"/><ellipse cx="-0.4" cy="37.8" rx="1.3" ry="1.1" transform="rotate(48 -0.4 37.8)"/><ellipse cx="59.6" cy="37.8" rx="1.3" ry="1.1" transform="rotate(48 59.6 37.8)"/><ellipse cx="-0.6" cy="34.6" rx="1.2" ry="1.1" transform="rotate(80 -0.6 34.6)"/><ellipse cx="59.4" cy="34.6" rx="1.2" ry="1.1" transform="rotate(80 59.4 34.6)"/><ellipse cx="10.6" cy="44.6" rx="0.8" ry="1.2" transform="rotate(46 10.6 44.6)"/><ellipse cx="38.4" cy="-1.0" rx="1.6" ry="1.0" transform="rotate(56 38.4 -1.0)"/><ellipse cx="38.4" cy="59.0" rx="1.6" ry="1.0" transform="rotate(56 38.4 59.0)"/><ellipse cx="0.1" cy="2.0" rx="0.9" ry="1.0" transform="rotate(78 0.1 2.0)"/><ellipse cx="0.1" cy="62.0" rx="0.9" ry="1.0" transform="rotate(78 0.1 62.0)"/><ellipse cx="60.1" cy="2.0" rx="0.9" ry="1.0" transform="rotate(78 60.1 2.0)"/><ellipse cx="60.1" cy="62.0" rx="0.9" ry="1.0" transform="rotate(78 60.1 62.0)"/><ellipse cx="30.8" cy="53.7" rx="0.9" ry="0.7" transform="rotate(118 30.8 53.7)"/><ellipse cx="1.3" cy="0.2" rx="1.2" ry="0.6" transform="rotate(64 1.3 0.2)"/><ellipse cx="1.3" cy="60.2" rx="1.2" ry="0.6" transform="rotate(64 1.3 60.2)"/><ellipse cx="61.3" cy="0.2" rx="1.2" ry="0.6" transform="rotate(64 61.3 0.2)"/><ellipse cx="61.3" cy="60.2" rx="1.2" ry="0.6" transform="rotate(64 61.3 60.2)"/><ellipse cx="13.5" cy="35.0" rx="1.6" ry="0.7" transform="rotate(112 13.5 35.0)"/><ellipse cx="28.5" cy="8.1" rx="2.1" ry="0.7" transform="rotate(27 28.5 8.1)"/><ellipse cx="5.7" cy="38.3" rx="2.0" ry="1.1" transform="rotate(72 5.7 38.3)"/><ellipse cx="15.9" cy="0.7" rx="1.7" ry="0.9" transform="rotate(63 15.9 0.7)"/><ellipse cx="15.9" cy="60.7" rx="1.7" ry="0.9" transform="rotate(63 15.9 60.7)"/><ellipse cx="38.7" cy="26.6" rx="2.1" ry="1.1" transform="rotate(45 38.7 26.6)"/><ellipse cx="54.2" cy="2.6" rx="1.5" ry="0.8" transform="rotate(43 54.2 2.6)"/><ellipse cx="54.2" cy="62.6" rx="1.5" ry="0.8" transform="rotate(43 54.2 62.6)"/><ellipse cx="3.5" cy="46.7" rx="0.7" ry="0.9" transform="rotate(169 3.5 46.7)"/><ellipse cx="8.5" cy="12.0" rx="1.6" ry="0.9" transform="rotate(115 8.5 12.0)"/><ellipse cx="48.8" cy="10.5" rx="1.2" ry="0.7" transform="rotate(9 48.8 10.5)"/><ellipse cx="53.4" cy="47.0" rx="1.8" ry="0.5" transform="rotate(152 53.4 47.0)"/><ellipse cx="44.7" cy="27.9" rx="1.8" ry="0.9" transform="rotate(41 44.7 27.9)"/><ellipse cx="6.3" cy="13.9" rx="0.8" ry="0.8" transform="rotate(135 6.3 13.9)"/><ellipse cx="41.7" cy="50.7" rx="1.8" ry="0.7" transform="rotate(100 41.7 50.7)"/><ellipse cx="26.2" cy="47.3" rx="1.5" ry="0.7" transform="rotate(116 26.2 47.3)"/><ellipse cx="-2.1" cy="13.0" rx="2.0" ry="0.5" transform="rotate(47 -2.1 13.0)"/><ellipse cx="57.9" cy="13.0" rx="2.0" ry="0.5" transform="rotate(47 57.9 13.0)"/><ellipse cx="14.2" cy="44.6" rx="2.1" ry="1.1" transform="rotate(59 14.2 44.6)"/><ellipse cx="52.8" cy="19.7" rx="1.1" ry="1.2" transform="rotate(114 52.8 19.7)"/><ellipse cx="41.6" cy="39.9" rx="2.2" ry="0.9" transform="rotate(151 41.6 39.9)"/><ellipse cx="41.9" cy="51.5" rx="1.4" ry="1.1" transform="rotate(103 41.9 51.5)"/><ellipse cx="18.5" cy="12.7" rx="1.6" ry="0.6" transform="rotate(164 18.5 12.7)"/><ellipse cx="8.7" cy="1.6" rx="0.9" ry="1.2" transform="rotate(62 8.7 1.6)"/><ellipse cx="8.7" cy="61.6" rx="0.9" ry="1.2" transform="rotate(62 8.7 61.6)"/><ellipse cx="8.5" cy="1.7" rx="0.8" ry="1.1" transform="rotate(114 8.5 1.7)"/><ellipse cx="8.5" cy="61.7" rx="0.8" ry="1.1" transform="rotate(114 8.5 61.7)"/><ellipse cx="41.8" cy="44.2" rx="0.8" ry="1.0" transform="rotate(65 41.8 44.2)"/><ellipse cx="49.1" cy="49.2" rx="2.0" ry="0.6" transform="rotate(156 49.1 49.2)"/><ellipse cx="54.9" cy="56.7" rx="0.9" ry="0.7" transform="rotate(20 54.9 56.7)"/><ellipse cx="2.1" cy="50.9" rx="1.9" ry="1.0" transform="rotate(149 2.1 50.9)"/><ellipse cx="62.1" cy="50.9" rx="1.9" ry="1.0" transform="rotate(149 62.1 50.9)"/><ellipse cx="37.9" cy="17.2" rx="0.8" ry="0.6" transform="rotate(136 37.9 17.2)"/><ellipse cx="12.3" cy="19.1" rx="1.3" ry="0.5" transform="rotate(46 12.3 19.1)"/><ellipse cx="17.0" cy="42.9" rx="1.3" ry="0.8" transform="rotate(174 17.0 42.9)"/><ellipse cx="30.2" cy="51.1" rx="1.6" ry="0.5" transform="rotate(74 30.2 51.1)"/><ellipse cx="26.2" cy="46.4" rx="1.2" ry="1.1" transform="rotate(97 26.2 46.4)"/><ellipse cx="13.0" cy="51.7" rx="0.8" ry="1.2" transform="rotate(31 13.0 51.7)"/><ellipse cx="0.1" cy="12.1" rx="1.8" ry="1.3" transform="rotate(1 0.1 12.1)"/><ellipse cx="60.1" cy="12.1" rx="1.8" ry="1.3" transform="rotate(1 60.1 12.1)"/><ellipse cx="29.4" cy="29.5" rx="1.9" ry="0.6" transform="rotate(89 29.4 29.5)"/><ellipse cx="20.8" cy="49.9" rx="1.1" ry="1.3" transform="rotate(51 20.8 49.9)"/><ellipse cx="12.9" cy="42.0" rx="1.4" ry="0.6" transform="rotate(115 12.9 42.0)"/><ellipse cx="4.9" cy="47.3" rx="1.7" ry="1.1" transform="rotate(113 4.9 47.3)"/><ellipse cx="21.3" cy="24.1" rx="1.3" ry="1.2" transform="rotate(16 21.3 24.1)"/><ellipse cx="53.3" cy="1.5" rx="1.0" ry="0.7" transform="rotate(162 53.3 1.5)"/><ellipse cx="53.3" cy="61.5" rx="1.0" ry="0.7" transform="rotate(162 53.3 61.5)"/><ellipse cx="30.1" cy="22.8" rx="2.0" ry="0.7" transform="rotate(83 30.1 22.8)"/><ellipse cx="31.9" cy="45.3" rx="1.8" ry="1.0" transform="rotate(63 31.9 45.3)"/><ellipse cx="19.6" cy="9.3" rx="2.0" ry="1.0" transform="rotate(134 19.6 9.3)"/><ellipse cx="10.2" cy="26.3" rx="1.9" ry="1.0" transform="rotate(23 10.2 26.3)"/><ellipse cx="27.7" cy="53.1" rx="1.1" ry="0.7" transform="rotate(54 27.7 53.1)"/><ellipse cx="42.2" cy="50.6" rx="0.9" ry="0.6" transform="rotate(45 42.2 50.6)"/><ellipse cx="19.6" cy="31.3" rx="0.9" ry="0.8" transform="rotate(34 19.6 31.3)"/><ellipse cx="-1.5" cy="43.7" rx="0.9" ry="1.3" transform="rotate(18 -1.5 43.7)"/><ellipse cx="58.5" cy="43.7" rx="0.9" ry="1.3" transform="rotate(18 58.5 43.7)"/><ellipse cx="23.1" cy="-1.0" rx="1.9" ry="1.1" transform="rotate(78 23.1 -1.0)"/><ellipse cx="23.1" cy="59.0" rx="1.9" ry="1.1" transform="rotate(78 23.1 59.0)"/><ellipse cx="11.8" cy="38.3" rx="0.9" ry="0.7" transform="rotate(70 11.8 38.3)"/><ellipse cx="2.0" cy="23.9" rx="1.9" ry="1.1" transform="rotate(90 2.0 23.9)"/><ellipse cx="62.0" cy="23.9" rx="1.9" ry="1.1" transform="rotate(90 62.0 23.9)"/><ellipse cx="37.9" cy="27.8" rx="0.9" ry="1.0" transform="rotate(73 37.9 27.8)"/><ellipse cx="44.5" cy="54.5" rx="1.3" ry="1.0" transform="rotate(135 44.5 54.5)"/><ellipse cx="25.3" cy="13.7" rx="1.8" ry="1.2" transform="rotate(139 25.3 13.7)"/><ellipse cx="42.0" cy="51.1" rx="1.7" ry="1.0" transform="rotate(82 42.0 51.1)"/><ellipse cx="18.8" cy="37.7" rx="0.8" ry="0.8" transform="rotate(141 18.8 37.7)"/><ellipse cx="42.8" cy="37.8" rx="1.1" ry="0.8" transform="rotate(82 42.8 37.8)"/><ellipse cx="37.3" cy="24.6" rx="1.7" ry="1.2" transform="rotate(33 37.3 24.6)"/><ellipse cx="39.3" cy="46.7" rx="1.3" ry="0.9" transform="rotate(175 39.3 46.7)"/><ellipse cx="2.3" cy="32.6" rx="0.9" ry="1.1" transform="rotate(169 2.3 32.6)"/><ellipse cx="62.3" cy="32.6" rx="0.9" ry="1.1" transform="rotate(169 62.3 32.6)"/><ellipse cx="31.2" cy="6.1" rx="1.6" ry="0.9" transform="rotate(129 31.2 6.1)"/><ellipse cx="30.7" cy="38.4" rx="1.9" ry="0.9" transform="rotate(74 30.7 38.4)"/><ellipse cx="56.9" cy="12.6" rx="1.7" ry="0.8" transform="rotate(137 56.9 12.6)"/><ellipse cx="7.3" cy="-0.9" rx="1.2" ry="0.5" transform="rotate(49 7.3 -0.9)"/><ellipse cx="7.3" cy="59.1" rx="1.2" ry="0.5" transform="rotate(49 7.3 59.1)"/><ellipse cx="24.0" cy="0.8" rx="1.3" ry="0.8" transform="rotate(126 24.0 0.8)"/><ellipse cx="24.0" cy="60.8" rx="1.3" ry="0.8" transform="rotate(126 24.0 60.8)"/><ellipse cx="21.1" cy="15.9" rx="1.0" ry="1.1" transform="rotate(169 21.1 15.9)"/><ellipse cx="31.6" cy="13.1" rx="1.9" ry="0.8" transform="rotate(38 31.6 13.1)"/><ellipse cx="7.8" cy="46.6" rx="1.9" ry="1.0" transform="rotate(84 7.8 46.6)"/><ellipse cx="33.7" cy="13.6" rx="2.1" ry="0.8" transform="rotate(115 33.7 13.6)"/><ellipse cx="49.1" cy="49.0" rx="1.4" ry="0.7" transform="rotate(99 49.1 49.0)"/><ellipse cx="7.5" cy="50.0" rx="1.2" ry="1.2" transform="rotate(48 7.5 50.0)"/><ellipse cx="22.6" cy="15.2" rx="1.3" ry="0.6" transform="rotate(0 22.6 15.2)"/><ellipse cx="43.3" cy="16.9" rx="1.1" ry="0.7" transform="rotate(86 43.3 16.9)"/><ellipse cx="25.7" cy="38.2" rx="1.7" ry="0.8" transform="rotate(167 25.7 38.2)"/><ellipse cx="51.3" cy="3.4" rx="1.9" ry="1.2" transform="rotate(141 51.3 3.4)"/><ellipse cx="8.4" cy="49.9" rx="1.6" ry="0.5" transform="rotate(2 8.4 49.9)"/><ellipse cx="-2.9" cy="39.4" rx="1.1" ry="0.6" transform="rotate(26 -2.9 39.4)"/><ellipse cx="57.1" cy="39.4" rx="1.1" ry="0.6" transform="rotate(26 57.1 39.4)"/><ellipse cx="14.0" cy="46.6" rx="1.2" ry="0.6" transform="rotate(163 14.0 46.6)"/><ellipse cx="47.5" cy="10.1" rx="2.0" ry="1.0" transform="rotate(141 47.5 10.1)"/><ellipse cx="40.1" cy="53.6" rx="1.9" ry="1.2" transform="rotate(36 40.1 53.6)"/><ellipse cx="41.6" cy="31.8" rx="1.8" ry="0.9" transform="rotate(159 41.6 31.8)"/><ellipse cx="33.3" cy="15.9" rx="1.1" ry="0.6" transform="rotate(89 33.3 15.9)"/><ellipse cx="3.5" cy="28.0" rx="0.9" ry="0.9" transform="rotate(90 3.5 28.0)"/><ellipse cx="32.4" cy="51.8" rx="0.7" ry="1.2" transform="rotate(84 32.4 51.8)"/><ellipse cx="33.8" cy="39.9" rx="2.0" ry="0.8" transform="rotate(75 33.8 39.9)"/><ellipse cx="-2.4" cy="4.5" rx="1.7" ry="1.0" transform="rotate(5 -2.4 4.5)"/><ellipse cx="57.6" cy="4.5" rx="1.7" ry="1.0" transform="rotate(5 57.6 4.5)"/><ellipse cx="36.6" cy="41.0" rx="2.1" ry="0.8" transform="rotate(177 36.6 41.0)"/><ellipse cx="30.6" cy="29.1" rx="2.0" ry="0.5" transform="rotate(129 30.6 29.1)"/><ellipse cx="37.5" cy="20.3" rx="2.0" ry="0.8" transform="rotate(85 37.5 20.3)"/><ellipse cx="31.5" cy="46.2" rx="1.0" ry="0.8" transform="rotate(76 31.5 46.2)"/><ellipse cx="33.2" cy="49.6" rx="1.1" ry="1.2" transform="rotate(73 33.2 49.6)"/><ellipse cx="30.2" cy="16.3" rx="1.5" ry="1.3" transform="rotate(118 30.2 16.3)"/><ellipse cx="47.5" cy="19.9" rx="1.2" ry="0.7" transform="rotate(106 47.5 19.9)"/><ellipse cx="38.1" cy="47.1" rx="0.8" ry="1.1" transform="rotate(159 38.1 47.1)"/><ellipse cx="32.7" cy="3.0" rx="1.2" ry="0.5" transform="rotate(34 32.7 3.0)"/><ellipse cx="32.7" cy="63.0" rx="1.2" ry="0.5" transform="rotate(34 32.7 63.0)"/><ellipse cx="55.3" cy="36.5" rx="1.7" ry="1.1" transform="rotate(164 55.3 36.5)"/><ellipse cx="36.7" cy="37.0" rx="1.6" ry="1.1" transform="rotate(107 36.7 37.0)"/><ellipse cx="40.9" cy="12.8" rx="1.7" ry="0.9" transform="rotate(137 40.9 12.8)"/><ellipse cx="6.1" cy="10.9" rx="0.8" ry="1.1" transform="rotate(165 6.1 10.9)"/><ellipse cx="39.3" cy="22.1" rx="1.9" ry="1.1" transform="rotate(101 39.3 22.1)"/><ellipse cx="15.5" cy="18.1" rx="1.3" ry="0.8" transform="rotate(78 15.5 18.1)"/><ellipse cx="38.5" cy="56.0" rx="0.8" ry="1.0" transform="rotate(7 38.5 56.0)"/><ellipse cx="7.1" cy="48.6" rx="1.6" ry="1.2" transform="rotate(80 7.1 48.6)"/><ellipse cx="0.8" cy="23.2" rx="1.6" ry="1.3" transform="rotate(177 0.8 23.2)"/><ellipse cx="60.8" cy="23.2" rx="1.6" ry="1.3" transform="rotate(177 60.8 23.2)"/><ellipse cx="28.5" cy="24.7" rx="0.9" ry="1.0" transform="rotate(38 28.5 24.7)"/><ellipse cx="9.1" cy="0.9" rx="0.7" ry="1.0" transform="rotate(22 9.1 0.9)"/><ellipse cx="9.1" cy="60.9" rx="0.7" ry="1.0" transform="rotate(22 9.1 60.9)"/><ellipse cx="-2.0" cy="5.3" rx="2.0" ry="0.6" transform="rotate(3 -2.0 5.3)"/><ellipse cx="58.0" cy="5.3" rx="2.0" ry="0.6" transform="rotate(3 58.0 5.3)"/><ellipse cx="43.2" cy="14.5" rx="1.8" ry="0.6" transform="rotate(9 43.2 14.5)"/><ellipse cx="46.4" cy="42.8" rx="2.0" ry="1.1" transform="rotate(15 46.4 42.8)"/><ellipse cx="37.7" cy="42.6" rx="1.4" ry="1.2" transform="rotate(46 37.7 42.6)"/><ellipse cx="-2.1" cy="43.0" rx="0.7" ry="0.5" transform="rotate(117 -2.1 43.0)"/><ellipse cx="57.9" cy="43.0" rx="0.7" ry="0.5" transform="rotate(117 57.9 43.0)"/><ellipse cx="49.0" cy="4.8" rx="1.2" ry="1.1" transform="rotate(30 49.0 4.8)"/><ellipse cx="51.7" cy="29.2" rx="0.8" ry="0.8" transform="rotate(103 51.7 29.2)"/><ellipse cx="26.3" cy="40.6" rx="0.9" ry="1.1" transform="rotate(65 26.3 40.6)"/><ellipse cx="38.7" cy="37.8" rx="1.3" ry="0.8" transform="rotate(142 38.7 37.8)"/><ellipse cx="56.7" cy="47.1" rx="1.6" ry="0.7" transform="rotate(11 56.7 47.1)"/><ellipse cx="-1.6" cy="42.2" rx="1.9" ry="0.8" transform="rotate(109 -1.6 42.2)"/><ellipse cx="58.4" cy="42.2" rx="1.9" ry="0.8" transform="rotate(109 58.4 42.2)"/><ellipse cx="-1.4" cy="49.9" rx="1.6" ry="0.7" transform="rotate(77 -1.4 49.9)"/><ellipse cx="58.6" cy="49.9" rx="1.6" ry="0.7" transform="rotate(77 58.6 49.9)"/><ellipse cx="53.3" cy="22.6" rx="1.7" ry="1.0" transform="rotate(161 53.3 22.6)"/><ellipse cx="48.4" cy="17.0" rx="0.7" ry="0.7" transform="rotate(76 48.4 17.0)"/><ellipse cx="35.2" cy="49.0" rx="2.0" ry="0.5" transform="rotate(150 35.2 49.0)"/><ellipse cx="48.7" cy="52.0" rx="1.6" ry="0.7" transform="rotate(153 48.7 52.0)"/><ellipse cx="48.4" cy="41.1" rx="2.1" ry="0.8" transform="rotate(15 48.4 41.1)"/><ellipse cx="33.2" cy="47.8" rx="1.0" ry="1.1" transform="rotate(168 33.2 47.8)"/><ellipse cx="14.0" cy="36.4" rx="1.7" ry="0.9" transform="rotate(37 14.0 36.4)"/><ellipse cx="15.3" cy="45.1" rx="1.9" ry="0.9" transform="rotate(16 15.3 45.1)"/><ellipse cx="48.4" cy="46.3" rx="1.0" ry="1.0" transform="rotate(161 48.4 46.3)"/><ellipse cx="53.1" cy="31.3" rx="1.4" ry="1.0" transform="rotate(34 53.1 31.3)"/><ellipse cx="11.5" cy="10.8" rx="1.8" ry="0.8" transform="rotate(102 11.5 10.8)"/><ellipse cx="24.1" cy="31.0" rx="0.9" ry="0.5" transform="rotate(179 24.1 31.0)"/><ellipse cx="22.4" cy="6.4" rx="1.6" ry="1.1" transform="rotate(28 22.4 6.4)"/><ellipse cx="35.8" cy="20.7" rx="1.5" ry="0.5" transform="rotate(6 35.8 20.7)"/><ellipse cx="-0.6" cy="52.0" rx="1.4" ry="1.0" transform="rotate(47 -0.6 52.0)"/><ellipse cx="59.4" cy="52.0" rx="1.4" ry="1.0" transform="rotate(47 59.4 52.0)"/><ellipse cx="46.8" cy="25.6" rx="2.1" ry="1.1" transform="rotate(147 46.8 25.6)"/><ellipse cx="-2.2" cy="15.2" rx="0.8" ry="0.7" transform="rotate(33 -2.2 15.2)"/><ellipse cx="57.8" cy="15.2" rx="0.8" ry="0.7" transform="rotate(33 57.8 15.2)"/><ellipse cx="5.0" cy="3.1" rx="1.5" ry="1.2" transform="rotate(82 5.0 3.1)"/><ellipse cx="56.8" cy="54.6" rx="0.8" ry="1.0" transform="rotate(72 56.8 54.6)"/><ellipse cx="7.2" cy="-2.4" rx="1.1" ry="1.0" transform="rotate(115 7.2 -2.4)"/><ellipse cx="7.2" cy="57.6" rx="1.1" ry="1.0" transform="rotate(115 7.2 57.6)"/><ellipse cx="-2.6" cy="40.2" rx="1.3" ry="0.9" transform="rotate(29 -2.6 40.2)"/><ellipse cx="57.4" cy="40.2" rx="1.3" ry="0.9" transform="rotate(29 57.4 40.2)"/><ellipse cx="-2.1" cy="-0.5" rx="1.0" ry="0.5" transform="rotate(46 -2.1 -0.5)"/><ellipse cx="-2.1" cy="59.5" rx="1.0" ry="0.5" transform="rotate(46 -2.1 59.5)"/><ellipse cx="57.9" cy="-0.5" rx="1.0" ry="0.5" transform="rotate(46 57.9 -0.5)"/><ellipse cx="57.9" cy="59.5" rx="1.0" ry="0.5" transform="rotate(46 57.9 59.5)"/><ellipse cx="21.1" cy="54.2" rx="2.1" ry="1.2" transform="rotate(8 21.1 54.2)"/><ellipse cx="47.2" cy="42.6" rx="1.7" ry="1.3" transform="rotate(10 47.2 42.6)"/><ellipse cx="8.7" cy="45.3" rx="2.1" ry="1.0" transform="rotate(54 8.7 45.3)"/><ellipse cx="35.5" cy="45.5" rx="0.9" ry="0.8" transform="rotate(46 35.5 45.5)"/><ellipse cx="7.4" cy="28.9" rx="1.0" ry="0.7" transform="rotate(26 7.4 28.9)"/><ellipse cx="40.7" cy="0.8" rx="1.8" ry="0.7" transform="rotate(6 40.7 0.8)"/><ellipse cx="40.7" cy="60.8" rx="1.8" ry="0.7" transform="rotate(6 40.7 60.8)"/><ellipse cx="55.7" cy="13.2" rx="2.1" ry="1.2" transform="rotate(160 55.7 13.2)"/><ellipse cx="8.4" cy="26.8" rx="0.8" ry="1.2" transform="rotate(152 8.4 26.8)"/><ellipse cx="37.7" cy="27.1" rx="1.2" ry="1.2" transform="rotate(86 37.7 27.1)"/><ellipse cx="37.7" cy="8.6" rx="1.0" ry="0.5" transform="rotate(128 37.7 8.6)"/><ellipse cx="33.2" cy="8.7" rx="2.0" ry="0.7" transform="rotate(74 33.2 8.7)"/><ellipse cx="9.3" cy="16.3" rx="2.0" ry="0.8" transform="rotate(30 9.3 16.3)"/><ellipse cx="29.5" cy="19.1" rx="2.1" ry="0.6" transform="rotate(176 29.5 19.1)"/><ellipse cx="3.4" cy="53.7" rx="1.7" ry="0.7" transform="rotate(86 3.4 53.7)"/><ellipse cx="17.2" cy="15.5" rx="1.0" ry="0.8" transform="rotate(178 17.2 15.5)"/><ellipse cx="-0.1" cy="55.5" rx="0.8" ry="0.7" transform="rotate(161 -0.1 55.5)"/><ellipse cx="59.9" cy="55.5" rx="0.8" ry="0.7" transform="rotate(161 59.9 55.5)"/><ellipse cx="3.4" cy="43.6" rx="1.1" ry="1.3" transform="rotate(3 3.4 43.6)"/><ellipse cx="48.4" cy="20.5" rx="0.9" ry="0.5" transform="rotate(150 48.4 20.5)"/><ellipse cx="31.6" cy="11.1" rx="1.4" ry="1.2" transform="rotate(39 31.6 11.1)"/><ellipse cx="34.3" cy="8.3" rx="1.0" ry="1.1" transform="rotate(128 34.3 8.3)"/><ellipse cx="11.8" cy="4.8" rx="0.8" ry="1.0" transform="rotate(89 11.8 4.8)"/><ellipse cx="16.4" cy="12.4" rx="1.6" ry="1.1" transform="rotate(146 16.4 12.4)"/><ellipse cx="35.0" cy="12.1" rx="0.8" ry="1.1" transform="rotate(73 35.0 12.1)"/><ellipse cx="43.3" cy="3.3" rx="1.9" ry="0.8" transform="rotate(152 43.3 3.3)"/><ellipse cx="51.9" cy="29.6" rx="0.7" ry="1.2" transform="rotate(86 51.9 29.6)"/><ellipse cx="52.3" cy="16.0" rx="1.0" ry="1.2" transform="rotate(66 52.3 16.0)"/><ellipse cx="9.8" cy="22.3" rx="1.6" ry="0.5" transform="rotate(94 9.8 22.3)"/><ellipse cx="26.7" cy="30.9" rx="0.9" ry="1.1" transform="rotate(147 26.7 30.9)"/><ellipse cx="51.9" cy="19.3" rx="1.8" ry="0.8" transform="rotate(135 51.9 19.3)"/><ellipse cx="3.7" cy="52.4" rx="2.1" ry="0.9" transform="rotate(92 3.7 52.4)"/><ellipse cx="31.8" cy="32.2" rx="0.7" ry="1.3" transform="rotate(40 31.8 32.2)"/><ellipse cx="10.9" cy="6.2" rx="1.1" ry="1.2" transform="rotate(5 10.9 6.2)"/><ellipse cx="5.8" cy="41.9" rx="1.0" ry="0.5" transform="rotate(108 5.8 41.9)"/><ellipse cx="34.6" cy="31.4" rx="1.8" ry="0.6" transform="rotate(157 34.6 31.4)"/><ellipse cx="43.0" cy="2.7" rx="0.9" ry="0.9" transform="rotate(90 43.0 2.7)"/><ellipse cx="43.0" cy="62.7" rx="0.9" ry="0.9" transform="rotate(90 43.0 62.7)"/><ellipse cx="16.8" cy="7.3" rx="1.3" ry="0.6" transform="rotate(107 16.8 7.3)"/><ellipse cx="51.7" cy="8.8" rx="1.6" ry="1.1" transform="rotate(30 51.7 8.8)"/><ellipse cx="49.6" cy="56.3" rx="1.3" ry="0.8" transform="rotate(151 49.6 56.3)"/><ellipse cx="31.5" cy="23.7" rx="2.1" ry="1.1" transform="rotate(61 31.5 23.7)"/><ellipse cx="14.4" cy="20.1" rx="1.4" ry="1.3" transform="rotate(145 14.4 20.1)"/><ellipse cx="54.8" cy="48.9" rx="2.0" ry="0.5" transform="rotate(93 54.8 48.9)"/><ellipse cx="-2.5" cy="56.1" rx="1.1" ry="0.8" transform="rotate(114 -2.5 56.1)"/><ellipse cx="57.5" cy="56.1" rx="1.1" ry="0.8" transform="rotate(114 57.5 56.1)"/><ellipse cx="21.9" cy="31.8" rx="0.8" ry="0.8" transform="rotate(91 21.9 31.8)"/><ellipse cx="1.2" cy="8.4" rx="2.2" ry="1.1" transform="rotate(169 1.2 8.4)"/><ellipse cx="61.2" cy="8.4" rx="2.2" ry="1.1" transform="rotate(169 61.2 8.4)"/><ellipse cx="38.0" cy="48.6" rx="2.0" ry="1.2" transform="rotate(6 38.0 48.6)"/><ellipse cx="38.5" cy="15.9" rx="1.7" ry="0.7" transform="rotate(98 38.5 15.9)"/><ellipse cx="55.5" cy="37.3" rx="1.1" ry="0.9" transform="rotate(78 55.5 37.3)"/><ellipse cx="-2.9" cy="17.3" rx="1.2" ry="1.0" transform="rotate(22 -2.9 17.3)"/><ellipse cx="57.1" cy="17.3" rx="1.2" ry="1.0" transform="rotate(22 57.1 17.3)"/><ellipse cx="35.7" cy="-2.6" rx="1.5" ry="0.7" transform="rotate(84 35.7 -2.6)"/><ellipse cx="35.7" cy="57.4" rx="1.5" ry="0.7" transform="rotate(84 35.7 57.4)"/><ellipse cx="32.0" cy="8.9" rx="0.9" ry="0.6" transform="rotate(53 32.0 8.9)"/><ellipse cx="24.4" cy="17.3" rx="1.1" ry="0.6" transform="rotate(98 24.4 17.3)"/><ellipse cx="50.4" cy="36.6" rx="1.6" ry="1.0" transform="rotate(36 50.4 36.6)"/><ellipse cx="42.6" cy="27.7" rx="1.5" ry="1.0" transform="rotate(84 42.6 27.7)"/><ellipse cx="18.6" cy="14.5" rx="1.0" ry="0.9" transform="rotate(69 18.6 14.5)"/><ellipse cx="35.1" cy="0.7" rx="1.2" ry="1.2" transform="rotate(43 35.1 0.7)"/><ellipse cx="35.1" cy="60.7" rx="1.2" ry="1.2" transform="rotate(43 35.1 60.7)"/><ellipse cx="33.4" cy="29.5" rx="1.1" ry="1.3" transform="rotate(53 33.4 29.5)"/><ellipse cx="46.3" cy="9.5" rx="0.8" ry="1.2" transform="rotate(79 46.3 9.5)"/><ellipse cx="3.7" cy="23.3" rx="1.4" ry="1.1" transform="rotate(20 3.7 23.3)"/><ellipse cx="13.5" cy="-2.4" rx="1.8" ry="0.6" transform="rotate(61 13.5 -2.4)"/><ellipse cx="13.5" cy="57.6" rx="1.8" ry="0.6" transform="rotate(61 13.5 57.6)"/><ellipse cx="21.1" cy="40.5" rx="1.6" ry="1.2" transform="rotate(148 21.1 40.5)"/><ellipse cx="31.1" cy="44.3" rx="1.8" ry="1.1" transform="rotate(86 31.1 44.3)"/><ellipse cx="47.1" cy="42.5" rx="2.1" ry="0.6" transform="rotate(157 47.1 42.5)"/><ellipse cx="0.3" cy="45.9" rx="1.6" ry="0.9" transform="rotate(173 0.3 45.9)"/><ellipse cx="60.3" cy="45.9" rx="1.6" ry="0.9" transform="rotate(173 60.3 45.9)"/><ellipse cx="34.3" cy="25.1" rx="1.9" ry="1.2" transform="rotate(109 34.3 25.1)"/><ellipse cx="22.8" cy="27.1" rx="1.4" ry="1.1" transform="rotate(53 22.8 27.1)"/><ellipse cx="23.4" cy="33.3" rx="1.3" ry="0.8" transform="rotate(142 23.4 33.3)"/><ellipse cx="51.0" cy="30.0" rx="1.4" ry="0.6" transform="rotate(55 51.0 30.0)"/><ellipse cx="8.7" cy="34.5" rx="1.6" ry="0.6" transform="rotate(166 8.7 34.5)"/><ellipse cx="19.4" cy="50.6" rx="2.0" ry="1.3" transform="rotate(37 19.4 50.6)"/><ellipse cx="25.6" cy="54.6" rx="0.7" ry="0.5" transform="rotate(102 25.6 54.6)"/><ellipse cx="29.8" cy="55.2" rx="1.9" ry="0.9" transform="rotate(180 29.8 55.2)"/><ellipse cx="31.0" cy="31.0" rx="1.7" ry="0.8" transform="rotate(64 31.0 31.0)"/><ellipse cx="35.7" cy="21.1" rx="2.1" ry="1.0" transform="rotate(95 35.7 21.1)"/><ellipse cx="5.9" cy="22.5" rx="1.3" ry="0.9" transform="rotate(103 5.9 22.5)"/><ellipse cx="52.8" cy="-2.1" rx="1.4" ry="0.9" transform="rotate(112 52.8 -2.1)"/><ellipse cx="52.8" cy="57.9" rx="1.4" ry="0.9" transform="rotate(112 52.8 57.9)"/><ellipse cx="-0.2" cy="20.6" rx="1.5" ry="1.2" transform="rotate(31 -0.2 20.6)"/><ellipse cx="59.8" cy="20.6" rx="1.5" ry="1.2" transform="rotate(31 59.8 20.6)"/><ellipse cx="19.1" cy="-1.3" rx="1.9" ry="0.9" transform="rotate(20 19.1 -1.3)"/><ellipse cx="19.1" cy="58.7" rx="1.9" ry="0.9" transform="rotate(20 19.1 58.7)"/><ellipse cx="53.7" cy="41.4" rx="1.9" ry="1.3" transform="rotate(160 53.7 41.4)"/><ellipse cx="25.3" cy="9.4" rx="1.1" ry="0.9" transform="rotate(91 25.3 9.4)"/><ellipse cx="11.3" cy="10.9" rx="1.6" ry="1.0" transform="rotate(64 11.3 10.9)"/><ellipse cx="-0.4" cy="38.2" rx="0.8" ry="0.8" transform="rotate(142 -0.4 38.2)"/><ellipse cx="59.6" cy="38.2" rx="0.8" ry="0.8" transform="rotate(142 59.6 38.2)"/><ellipse cx="18.4" cy="41.4" rx="0.7" ry="0.7" transform="rotate(152 18.4 41.4)"/><ellipse cx="35.2" cy="40.1" rx="1.0" ry="0.9" transform="rotate(100 35.2 40.1)"/><ellipse cx="16.0" cy="38.8" rx="1.5" ry="1.3" transform="rotate(103 16.0 38.8)"/><ellipse cx="24.7" cy="7.3" rx="0.9" ry="1.1" transform="rotate(19 24.7 7.3)"/><ellipse cx="6.0" cy="10.2" rx="1.5" ry="1.2" transform="rotate(110 6.0 10.2)"/><ellipse cx="48.4" cy="3.7" rx="0.7" ry="1.1" transform="rotate(58 48.4 3.7)"/><ellipse cx="42.9" cy="21.2" rx="1.0" ry="0.7" transform="rotate(18 42.9 21.2)"/><ellipse cx="54.2" cy="34.9" rx="1.2" ry="0.9" transform="rotate(69 54.2 34.9)"/><ellipse cx="3.3" cy="53.4" rx="1.6" ry="1.3" transform="rotate(79 3.3 53.4)"/><ellipse cx="37.2" cy="15.0" rx="0.8" ry="1.2" transform="rotate(154 37.2 15.0)"/><ellipse cx="18.9" cy="53.9" rx="1.9" ry="0.7" transform="rotate(108 18.9 53.9)"/><ellipse cx="-2.4" cy="29.7" rx="2.1" ry="0.7" transform="rotate(70 -2.4 29.7)"/><ellipse cx="57.6" cy="29.7" rx="2.1" ry="0.7" transform="rotate(70 57.6 29.7)"/><ellipse cx="43.1" cy="13.3" rx="1.2" ry="1.2" transform="rotate(87 43.1 13.3)"/><ellipse cx="47.6" cy="14.6" rx="1.0" ry="0.8" transform="rotate(34 47.6 14.6)"/><ellipse cx="-1.7" cy="17.4" rx="1.5" ry="0.6" transform="rotate(96 -1.7 17.4)"/><ellipse cx="58.3" cy="17.4" rx="1.5" ry="0.6" transform="rotate(96 58.3 17.4)"/><ellipse cx="23.1" cy="24.2" rx="0.8" ry="0.6" transform="rotate(149 23.1 24.2)"/><ellipse cx="21.1" cy="14.7" rx="1.0" ry="0.7" transform="rotate(43 21.1 14.7)"/><ellipse cx="2.1" cy="39.9" rx="1.2" ry="0.6" transform="rotate(127 2.1 39.9)"/><ellipse cx="62.1" cy="39.9" rx="1.2" ry="0.6" transform="rotate(127 62.1 39.9)"/><ellipse cx="5.6" cy="16.2" rx="2.0" ry="0.6" transform="rotate(80 5.6 16.2)"/><ellipse cx="50.2" cy="48.3" rx="0.9" ry="0.8" transform="rotate(130 50.2 48.3)"/><ellipse cx="22.6" cy="-2.5" rx="1.0" ry="1.3" transform="rotate(91 22.6 -2.5)"/><ellipse cx="22.6" cy="57.5" rx="1.0" ry="1.3" transform="rotate(91 22.6 57.5)"/><ellipse cx="13.6" cy="27.2" rx="0.9" ry="1.1" transform="rotate(47 13.6 27.2)"/><ellipse cx="54.0" cy="35.3" rx="1.3" ry="0.7" transform="rotate(109 54.0 35.3)"/><ellipse cx="12.8" cy="52.3" rx="0.9" ry="0.9" transform="rotate(98 12.8 52.3)"/><ellipse cx="16.2" cy="46.3" rx="1.3" ry="1.0" transform="rotate(102 16.2 46.3)"/><ellipse cx="18.6" cy="23.4" rx="0.8" ry="0.6" transform="rotate(153 18.6 23.4)"/><ellipse cx="19.3" cy="39.8" rx="0.9" ry="0.9" transform="rotate(65 19.3 39.8)"/><ellipse cx="30.0" cy="17.8" rx="0.8" ry="0.7" transform="rotate(41 30.0 17.8)"/><ellipse cx="7.6" cy="43.0" rx="1.1" ry="0.8" transform="rotate(164 7.6 43.0)"/><ellipse cx="46.5" cy="53.0" rx="2.0" ry="0.6" transform="rotate(50 46.5 53.0)"/><ellipse cx="1.8" cy="40.8" rx="1.7" ry="0.8" transform="rotate(74 1.8 40.8)"/><ellipse cx="61.8" cy="40.8" rx="1.7" ry="0.8" transform="rotate(74 61.8 40.8)"/><ellipse cx="39.5" cy="42.0" rx="1.1" ry="1.2" transform="rotate(63 39.5 42.0)"/><ellipse cx="37.7" cy="10.9" rx="0.9" ry="1.2" transform="rotate(132 37.7 10.9)"/><ellipse cx="42.8" cy="2.4" rx="0.8" ry="0.6" transform="rotate(36 42.8 2.4)"/><ellipse cx="42.8" cy="62.4" rx="0.8" ry="0.6" transform="rotate(36 42.8 62.4)"/><ellipse cx="18.2" cy="22.8" rx="0.8" ry="0.7" transform="rotate(115 18.2 22.8)"/><ellipse cx="10.8" cy="50.4" rx="1.6" ry="1.1" transform="rotate(46 10.8 50.4)"/><ellipse cx="26.1" cy="41.1" rx="1.2" ry="0.5" transform="rotate(150 26.1 41.1)"/><ellipse cx="46.6" cy="17.2" rx="0.8" ry="1.2" transform="rotate(109 46.6 17.2)"/><ellipse cx="2.8" cy="14.7" rx="0.9" ry="1.1" transform="rotate(38 2.8 14.7)"/><ellipse cx="62.8" cy="14.7" rx="0.9" ry="1.1" transform="rotate(38 62.8 14.7)"/><ellipse cx="54.9" cy="45.0" rx="0.8" ry="1.1" transform="rotate(71 54.9 45.0)"/><ellipse cx="44.9" cy="49.7" rx="1.1" ry="0.6" transform="rotate(170 44.9 49.7)"/><ellipse cx="25.4" cy="55.8" rx="1.7" ry="1.1" transform="rotate(149 25.4 55.8)"/><ellipse cx="37.7" cy="27.2" rx="0.8" ry="1.1" transform="rotate(77 37.7 27.2)"/><ellipse cx="30.7" cy="55.7" rx="0.9" ry="1.1" transform="rotate(8 30.7 55.7)"/><ellipse cx="42.2" cy="48.3" rx="1.1" ry="0.9" transform="rotate(174 42.2 48.3)"/><ellipse cx="38.3" cy="32.6" rx="1.1" ry="0.5" transform="rotate(64 38.3 32.6)"/><ellipse cx="24.7" cy="12.1" rx="1.2" ry="0.6" transform="rotate(127 24.7 12.1)"/><ellipse cx="40.2" cy="14.3" rx="1.1" ry="0.9" transform="rotate(80 40.2 14.3)"/><ellipse cx="56.2" cy="21.1" rx="1.1" ry="1.2" transform="rotate(26 56.2 21.1)"/><ellipse cx="33.8" cy="20.0" rx="1.9" ry="0.9" transform="rotate(137 33.8 20.0)"/><ellipse cx="10.2" cy="40.0" rx="1.6" ry="0.9" transform="rotate(138 10.2 40.0)"/><ellipse cx="49.9" cy="6.9" rx="1.1" ry="0.8" transform="rotate(37 49.9 6.9)"/><ellipse cx="3.6" cy="16.9" rx="1.0" ry="1.1" transform="rotate(81 3.6 16.9)"/><ellipse cx="6.8" cy="19.5" rx="1.4" ry="0.8" transform="rotate(30 6.8 19.5)"/><ellipse cx="4.3" cy="0.6" rx="2.2" ry="1.1" transform="rotate(15 4.3 0.6)"/><ellipse cx="4.3" cy="60.6" rx="2.2" ry="1.1" transform="rotate(15 4.3 60.6)"/><ellipse cx="43.0" cy="-1.2" rx="1.5" ry="0.6" transform="rotate(88 43.0 -1.2)"/><ellipse cx="43.0" cy="58.8" rx="1.5" ry="0.6" transform="rotate(88 43.0 58.8)"/><ellipse cx="26.1" cy="11.4" rx="1.5" ry="0.5" transform="rotate(166 26.1 11.4)"/><ellipse cx="38.7" cy="37.7" rx="2.1" ry="1.0" transform="rotate(45 38.7 37.7)"/><ellipse cx="14.8" cy="8.3" rx="0.7" ry="1.1" transform="rotate(151 14.8 8.3)"/><ellipse cx="17.8" cy="11.1" rx="1.7" ry="1.2" transform="rotate(167 17.8 11.1)"/><ellipse cx="10.1" cy="47.1" rx="1.9" ry="1.1" transform="rotate(59 10.1 47.1)"/><ellipse cx="11.1" cy="49.5" rx="1.2" ry="0.8" transform="rotate(99 11.1 49.5)"/><ellipse cx="22.2" cy="49.9" rx="1.1" ry="0.5" transform="rotate(102 22.2 49.9)"/><ellipse cx="37.7" cy="49.2" rx="1.8" ry="1.2" transform="rotate(170 37.7 49.2)"/><ellipse cx="29.7" cy="30.0" rx="0.9" ry="0.7" transform="rotate(105 29.7 30.0)"/><ellipse cx="4.8" cy="41.3" rx="0.9" ry="0.9" transform="rotate(175 4.8 41.3)"/><ellipse cx="5.4" cy="2.4" rx="1.4" ry="0.7" transform="rotate(130 5.4 2.4)"/><ellipse cx="5.4" cy="62.4" rx="1.4" ry="0.7" transform="rotate(130 5.4 62.4)"/><ellipse cx="0.2" cy="50.4" rx="2.0" ry="1.1" transform="rotate(77 0.2 50.4)"/><ellipse cx="60.2" cy="50.4" rx="2.0" ry="1.1" transform="rotate(77 60.2 50.4)"/><ellipse cx="17.0" cy="39.7" rx="1.5" ry="0.8" transform="rotate(61 17.0 39.7)"/><ellipse cx="26.3" cy="40.0" rx="1.9" ry="1.2" transform="rotate(30 26.3 40.0)"/><ellipse cx="17.7" cy="26.6" rx="1.5" ry="0.8" transform="rotate(35 17.7 26.6)"/><ellipse cx="5.1" cy="19.4" rx="1.4" ry="1.3" transform="rotate(164 5.1 19.4)"/><ellipse cx="51.9" cy="-1.5" rx="2.1" ry="1.0" transform="rotate(146 51.9 -1.5)"/><ellipse cx="51.9" cy="58.5" rx="2.1" ry="1.0" transform="rotate(146 51.9 58.5)"/><ellipse cx="3.6" cy="40.6" rx="1.6" ry="0.7" transform="rotate(103 3.6 40.6)"/><ellipse cx="-2.8" cy="28.8" rx="1.7" ry="0.7" transform="rotate(62 -2.8 28.8)"/><ellipse cx="57.2" cy="28.8" rx="1.7" ry="0.7" transform="rotate(62 57.2 28.8)"/><ellipse cx="53.1" cy="1.7" rx="1.0" ry="1.0" transform="rotate(81 53.1 1.7)"/><ellipse cx="53.1" cy="61.7" rx="1.0" ry="1.0" transform="rotate(81 53.1 61.7)"/><ellipse cx="5.1" cy="39.6" rx="1.3" ry="1.0" transform="rotate(75 5.1 39.6)"/><ellipse cx="31.8" cy="33.9" rx="1.3" ry="0.6" transform="rotate(32 31.8 33.9)"/><ellipse cx="53.4" cy="32.9" rx="0.9" ry="1.2" transform="rotate(46 53.4 32.9)"/><ellipse cx="5.7" cy="31.8" rx="1.1" ry="0.9" transform="rotate(100 5.7 31.8)"/><ellipse cx="13.6" cy="34.4" rx="0.9" ry="0.9" transform="rotate(106 13.6 34.4)"/><ellipse cx="4.8" cy="24.5" rx="0.8" ry="0.9" transform="rotate(155 4.8 24.5)"/><ellipse cx="33.0" cy="42.9" rx="1.8" ry="0.6" transform="rotate(178 33.0 42.9)"/><ellipse cx="43.3" cy="6.1" rx="1.9" ry="0.8" transform="rotate(31 43.3 6.1)"/></g></pattern>
<clipPath id="bonec"><path d="M95.40,798.90 C97.67,795.93 100.03,794.32 103.00,793.00 C105.97,791.68 108.18,791.02 113.20,791.00 C118.22,790.98 127.13,791.58 133.10,792.90 C139.07,794.22 145.35,796.38 149.00,798.90 C152.65,801.42 153.68,804.37 155.00,808.00 C156.32,811.63 156.42,815.27 156.90,820.70 C157.38,826.13 158.57,835.63 157.90,840.60 C157.23,845.57 156.38,847.85 152.90,850.50 C149.42,853.15 142.28,853.52 137.00,856.50 C131.72,859.48 125.82,863.77 121.20,868.40 C116.58,873.03 112.62,878.35 109.30,884.30 C105.98,890.25 103.30,897.48 101.30,904.10 C99.30,910.72 98.22,917.18 97.30,924.00 C96.38,930.82 95.93,937.00 95.80,945.00 C95.67,953.00 96.22,962.50 96.50,972.00 C96.78,981.50 105.25,997.00 97.50,1002.00 C89.75,1007.00 58.25,1007.00 50.00,1002.00 C41.75,997.00 48.72,981.50 48.00,972.00 C47.28,962.50 47.07,953.00 45.70,945.00 C44.33,937.00 42.77,930.82 39.80,924.00 C36.83,917.18 31.38,910.72 27.90,904.10 C24.42,897.48 20.57,890.92 18.90,884.30 C17.23,877.68 17.40,870.03 17.90,864.40 C18.40,858.77 19.58,855.13 21.90,850.50 C24.22,845.87 28.82,839.42 31.80,836.60 C34.78,833.78 36.82,833.60 39.80,833.60 C42.78,833.60 46.73,834.93 49.70,836.60 C52.67,838.27 54.62,842.27 57.60,843.60 C60.58,844.93 63.95,845.43 67.60,844.60 C71.25,843.77 76.20,841.92 79.50,838.60 C82.80,835.28 85.75,829.33 87.40,824.70 C89.05,820.07 88.07,815.10 89.40,810.80 C90.73,806.50 93.13,801.87 95.40,798.90 Z"/></clipPath>
<linearGradient id="bonefade" gradientUnits="userSpaceOnUse" x1="0" y1="972" x2="0" y2="999"><stop offset="0" stop-color="#fff"/><stop offset="0.2" stop-color="#999"/><stop offset="0.55" stop-color="#444"/><stop offset="1" stop-color="#000"/></linearGradient>
<mask id="bonem" maskUnits="userSpaceOnUse" x="0" y="0" width="806" height="1204"><rect x="0" y="780" width="200" height="230" fill="url(#bonefade)"/></mask>
</defs>
<g mask="url(#bonem)">
<path d="M95.40,798.90 C97.67,795.93 100.03,794.32 103.00,793.00 C105.97,791.68 108.18,791.02 113.20,791.00 C118.22,790.98 127.13,791.58 133.10,792.90 C139.07,794.22 145.35,796.38 149.00,798.90 C152.65,801.42 153.68,804.37 155.00,808.00 C156.32,811.63 156.42,815.27 156.90,820.70 C157.38,826.13 158.57,835.63 157.90,840.60 C157.23,845.57 156.38,847.85 152.90,850.50 C149.42,853.15 142.28,853.52 137.00,856.50 C131.72,859.48 125.82,863.77 121.20,868.40 C116.58,873.03 112.62,878.35 109.30,884.30 C105.98,890.25 103.30,897.48 101.30,904.10 C99.30,910.72 98.22,917.18 97.30,924.00 C96.38,930.82 95.93,937.00 95.80,945.00 C95.67,953.00 96.22,962.50 96.50,972.00 C96.78,981.50 105.25,997.00 97.50,1002.00 C89.75,1007.00 58.25,1007.00 50.00,1002.00 C41.75,997.00 48.72,981.50 48.00,972.00 C47.28,962.50 47.07,953.00 45.70,945.00 C44.33,937.00 42.77,930.82 39.80,924.00 C36.83,917.18 31.38,910.72 27.90,904.10 C24.42,897.48 20.57,890.92 18.90,884.30 C17.23,877.68 17.40,870.03 17.90,864.40 C18.40,858.77 19.58,855.13 21.90,850.50 C24.22,845.87 28.82,839.42 31.80,836.60 C34.78,833.78 36.82,833.60 39.80,833.60 C42.78,833.60 46.73,834.93 49.70,836.60 C52.67,838.27 54.62,842.27 57.60,843.60 C60.58,844.93 63.95,845.43 67.60,844.60 C71.25,843.77 76.20,841.92 79.50,838.60 C82.80,835.28 85.75,829.33 87.40,824.70 C89.05,820.07 88.07,815.10 89.40,810.80 C90.73,806.50 93.13,801.87 95.40,798.90 Z" fill="#ecdab7" stroke="#dcc4a3" stroke-width="1.2"/>
<path d="M97.30,806.80 C99.28,802.83 100.00,801.88 105.30,800.90 C110.60,799.92 122.48,799.25 129.10,800.90 C135.72,802.55 141.35,806.17 145.00,810.80 C148.65,815.43 150.33,823.40 151.00,828.70 C151.67,834.00 151.67,838.88 149.00,842.60 C146.33,846.32 140.30,847.70 135.00,851.00 C129.70,854.30 122.48,857.52 117.20,862.40 C111.92,867.28 106.93,874.02 103.30,880.30 C99.67,886.58 97.38,892.82 95.40,900.10 C93.42,907.38 92.37,916.52 91.40,924.00 C90.43,931.48 89.87,937.00 89.60,945.00 C89.33,953.00 89.65,962.50 89.80,972.00 C89.95,981.50 96.38,997.00 90.50,1002.00 C84.62,1007.00 60.67,1007.00 54.50,1002.00 C48.33,997.00 53.97,981.50 53.50,972.00 C53.03,962.50 53.00,953.00 51.70,945.00 C50.40,937.00 48.35,930.82 45.70,924.00 C43.05,917.18 38.77,910.72 35.80,904.10 C32.83,897.48 29.22,890.92 27.90,884.30 C26.58,877.68 27.38,869.62 27.90,864.40 C28.42,859.18 29.02,856.30 31.00,853.00 C32.98,849.70 35.68,845.02 39.80,844.60 C43.92,844.18 50.73,849.52 55.70,850.50 C60.67,851.48 64.65,851.82 69.60,850.50 C74.55,849.18 81.43,846.90 85.40,842.60 C89.37,838.30 91.42,830.67 93.40,824.70 C95.38,818.73 95.32,810.77 97.30,806.80 Z" fill="url(#spong)"/>
</g>
<defs><clipPath id="intc"><path d="M668.00,816.50 C671.33,815.58 679.83,817.75 681.50,820.50 C683.17,823.25 677.58,828.75 678.00,833.00 C678.42,837.25 681.33,842.67 684.00,846.00 C686.67,849.33 689.83,852.00 694.00,853.00 C698.17,854.00 704.83,851.42 709.00,852.00 C713.17,852.58 715.00,856.47 719.00,856.50 C723.00,856.53 728.33,853.08 733.00,852.20 C737.67,851.32 742.67,851.48 747.00,851.20 C751.33,850.92 755.67,851.83 759.00,850.50 C762.33,849.17 763.67,845.23 767.00,843.20 C770.33,841.17 775.27,838.45 779.00,838.30 C782.73,838.15 787.17,840.07 789.40,842.30 C791.63,844.53 792.07,847.15 792.40,851.70 C792.73,856.25 792.07,863.32 791.40,869.60 C790.73,875.88 788.73,882.13 788.40,889.40 C788.07,896.67 789.57,905.92 789.40,913.20 C789.23,920.48 787.40,927.80 787.40,933.10 C787.40,938.40 790.07,940.28 789.40,945.00 C788.73,949.72 787.13,956.35 783.40,961.40 C779.67,966.45 774.35,972.00 767.00,975.30 C759.65,978.60 747.23,980.22 739.30,981.20 C731.37,982.18 726.02,980.53 719.40,981.20 C712.78,981.87 706.30,986.18 699.60,985.20 C692.90,984.22 683.60,979.27 679.20,975.30 C674.80,971.33 676.18,966.37 673.20,961.40 C670.22,956.43 664.27,950.80 661.30,945.50 C658.33,940.20 657.37,934.98 655.40,929.60 C653.43,924.22 649.83,917.92 649.50,913.20 C649.17,908.48 653.23,907.92 653.40,901.30 C653.57,894.68 651.98,880.45 650.50,873.50 C649.02,866.55 645.33,864.23 644.50,859.60 C643.67,854.97 643.92,849.05 645.50,845.70 C647.08,842.35 651.42,840.87 654.00,839.50 C656.58,838.13 659.75,839.75 661.00,837.50 C662.25,835.25 660.33,829.50 661.50,826.00 C662.67,822.50 664.67,817.42 668.00,816.50 Z"/></clipPath>
<linearGradient id="intfade" gradientUnits="userSpaceOnUse" x1="0" y1="815" x2="0" y2="826"><stop offset="0" stop-color="#000"/><stop offset="1" stop-color="#fff"/></linearGradient>
<mask id="intm" maskUnits="userSpaceOnUse" x="0" y="0" width="806" height="1204"><rect x="630" y="810" width="176" height="190" fill="url(#intfade)"/></mask></defs>
<g mask="url(#intm)"><g clip-path="url(#intc)"><path d="M668.00,816.50 C671.33,815.58 679.83,817.75 681.50,820.50 C683.17,823.25 677.58,828.75 678.00,833.00 C678.42,837.25 681.33,842.67 684.00,846.00 C686.67,849.33 689.83,852.00 694.00,853.00 C698.17,854.00 704.83,851.42 709.00,852.00 C713.17,852.58 715.00,856.47 719.00,856.50 C723.00,856.53 728.33,853.08 733.00,852.20 C737.67,851.32 742.67,851.48 747.00,851.20 C751.33,850.92 755.67,851.83 759.00,850.50 C762.33,849.17 763.67,845.23 767.00,843.20 C770.33,841.17 775.27,838.45 779.00,838.30 C782.73,838.15 787.17,840.07 789.40,842.30 C791.63,844.53 792.07,847.15 792.40,851.70 C792.73,856.25 792.07,863.32 791.40,869.60 C790.73,875.88 788.73,882.13 788.40,889.40 C788.07,896.67 789.57,905.92 789.40,913.20 C789.23,920.48 787.40,927.80 787.40,933.10 C787.40,938.40 790.07,940.28 789.40,945.00 C788.73,949.72 787.13,956.35 783.40,961.40 C779.67,966.45 774.35,972.00 767.00,975.30 C759.65,978.60 747.23,980.22 739.30,981.20 C731.37,982.18 726.02,980.53 719.40,981.20 C712.78,981.87 706.30,986.18 699.60,985.20 C692.90,984.22 683.60,979.27 679.20,975.30 C674.80,971.33 676.18,966.37 673.20,961.40 C670.22,956.43 664.27,950.80 661.30,945.50 C658.33,940.20 657.37,934.98 655.40,929.60 C653.43,924.22 649.83,917.92 649.50,913.20 C649.17,908.48 653.23,907.92 653.40,901.30 C653.57,894.68 651.98,880.45 650.50,873.50 C649.02,866.55 645.33,864.23 644.50,859.60 C643.67,854.97 643.92,849.05 645.50,845.70 C647.08,842.35 651.42,840.87 654.00,839.50 C656.58,838.13 659.75,839.75 661.00,837.50 C662.25,835.25 660.33,829.50 661.50,826.00 C662.67,822.50 664.67,817.42 668.00,816.50 Z" fill="#e79e97"/><path d="M666.20,940.00 C668.50,940.38 675.78,940.38 680.00,942.30 C684.22,944.22 688.42,948.03 691.50,951.50 C694.58,954.97 698.88,959.25 698.50,963.10 C698.12,966.95 692.67,973.45 689.20,974.60 C685.73,975.75 679.62,970.77 677.70,970.00" stroke="#de938c" stroke-width="18" fill="none" stroke-linecap="round"/><path d="M666.20,940.00 C668.50,940.38 675.78,940.38 680.00,942.30 C684.22,944.22 688.42,948.03 691.50,951.50 C694.58,954.97 698.88,959.25 698.50,963.10 C698.12,966.95 692.67,973.45 689.20,974.60 C685.73,975.75 679.62,970.77 677.70,970.00" stroke="#eea9a1" stroke-width="15.2" fill="none" stroke-linecap="round"/><path d="M677.50,939.30 C679.42,940.83 685.92,945.03 689.00,948.50 C692.08,951.97 696.38,956.25 696.00,960.10 C695.62,963.95 688.25,969.68 686.70,971.60" stroke="#f6c7c1" stroke-width="1.4" fill="none" stroke-linecap="round" opacity="0.8"/><path d="M712.30,958.50 C714.62,958.12 721.58,955.43 726.20,956.20 C730.82,956.97 736.93,960.03 740.00,963.10 C743.07,966.17 745.75,971.92 744.60,974.60 C743.45,977.28 735.02,978.43 733.10,979.20" stroke="#de938c" stroke-width="18" fill="none" stroke-linecap="round"/><path d="M712.30,958.50 C714.62,958.12 721.58,955.43 726.20,956.20 C730.82,956.97 736.93,960.03 740.00,963.10 C743.07,966.17 745.75,971.92 744.60,974.60 C743.45,977.28 735.02,978.43 733.10,979.20" stroke="#eea9a1" stroke-width="15.2" fill="none" stroke-linecap="round"/><path d="M723.70,953.20 C726.00,954.35 734.43,957.03 737.50,960.10 C740.57,963.17 741.33,969.68 742.10,971.60" stroke="#f6c7c1" stroke-width="1.4" fill="none" stroke-linecap="round" opacity="0.8"/><path d="M753.80,953.80 C756.12,953.03 763.08,949.20 767.70,949.20 C772.32,949.20 779.58,950.72 781.50,953.80 C783.42,956.88 781.88,964.23 779.20,967.70 C776.52,971.17 767.70,973.45 765.40,974.60" stroke="#de938c" stroke-width="18" fill="none" stroke-linecap="round"/><path d="M753.80,953.80 C756.12,953.03 763.08,949.20 767.70,949.20 C772.32,949.20 779.58,950.72 781.50,953.80 C783.42,956.88 781.88,964.23 779.20,967.70 C776.52,971.17 767.70,973.45 765.40,974.60" stroke="#eea9a1" stroke-width="15.2" fill="none" stroke-linecap="round"/><path d="M765.20,946.20 C767.50,946.97 777.08,947.72 779.00,950.80 C780.92,953.88 777.08,962.38 776.70,964.70" stroke="#f6c7c1" stroke-width="1.4" fill="none" stroke-linecap="round" opacity="0.8"/><path d="M652.30,907.70 C654.62,906.93 662.35,901.57 666.20,903.10 C670.05,904.63 674.25,912.28 675.40,916.90 C676.55,921.52 673.48,928.48 673.10,930.80" stroke="#de938c" stroke-width="18" fill="none" stroke-linecap="round"/><path d="M652.30,907.70 C654.62,906.93 662.35,901.57 666.20,903.10 C670.05,904.63 674.25,912.28 675.40,916.90 C676.55,921.52 673.48,928.48 673.10,930.80" stroke="#eea9a1" stroke-width="15.2" fill="none" stroke-linecap="round"/><path d="M663.70,900.10 C665.23,902.40 671.37,911.60 672.90,913.90" stroke="#f6c7c1" stroke-width="1.4" fill="none" stroke-linecap="round" opacity="0.8"/><path d="M689.20,921.50 C691.52,920.73 698.48,916.12 703.10,916.90 C707.72,917.68 713.05,922.35 716.90,926.20 C720.75,930.05 725.82,935.78 726.20,940.00 C726.58,944.22 720.37,949.58 719.20,951.50" stroke="#de938c" stroke-width="18" fill="none" stroke-linecap="round"/><path d="M689.20,921.50 C691.52,920.73 698.48,916.12 703.10,916.90 C707.72,917.68 713.05,922.35 716.90,926.20 C720.75,930.05 725.82,935.78 726.20,940.00 C726.58,944.22 720.37,949.58 719.20,951.50" stroke="#eea9a1" stroke-width="15.2" fill="none" stroke-linecap="round"/><path d="M700.60,913.90 C702.90,915.45 710.55,919.35 714.40,923.20 C718.25,927.05 722.15,934.70 723.70,937.00" stroke="#f6c7c1" stroke-width="1.4" fill="none" stroke-linecap="round" opacity="0.8"/><path d="M730.80,921.50 C733.10,921.50 741.15,919.18 744.60,921.50 C748.05,923.82 751.50,930.78 751.50,935.40 C751.50,940.02 745.75,946.90 744.60,949.20" stroke="#de938c" stroke-width="18" fill="none" stroke-linecap="round"/><path d="M730.80,921.50 C733.10,921.50 741.15,919.18 744.60,921.50 C748.05,923.82 751.50,930.78 751.50,935.40 C751.50,940.02 745.75,946.90 744.60,949.20" stroke="#eea9a1" stroke-width="15.2" fill="none" stroke-linecap="round"/><path d="M742.10,918.50 C743.25,920.82 747.85,930.08 749.00,932.40" stroke="#f6c7c1" stroke-width="1.4" fill="none" stroke-linecap="round" opacity="0.8"/><path d="M767.70,889.20 C770.00,890.75 778.42,893.88 781.50,898.50 C784.58,903.12 786.20,910.75 786.20,916.90 C786.20,923.05 784.20,931.17 781.50,935.40 C778.80,939.63 771.92,941.15 770.00,942.30" stroke="#de938c" stroke-width="18" fill="none" stroke-linecap="round"/><path d="M767.70,889.20 C770.00,890.75 778.42,893.88 781.50,898.50 C784.58,903.12 786.20,910.75 786.20,916.90 C786.20,923.05 784.20,931.17 781.50,935.40 C778.80,939.63 771.92,941.15 770.00,942.30" stroke="#eea9a1" stroke-width="15.2" fill="none" stroke-linecap="round"/><path d="M779.00,895.50 C779.78,898.57 783.70,907.75 783.70,913.90 C783.70,920.05 779.78,929.32 779.00,932.40" stroke="#f6c7c1" stroke-width="1.4" fill="none" stroke-linecap="round" opacity="0.8"/><path d="M726.20,903.10 C728.50,902.33 735.40,898.50 740.00,898.50 C744.60,898.50 749.95,900.03 753.80,903.10 C757.65,906.17 762.32,912.28 763.10,916.90 C763.88,921.52 759.27,928.48 758.50,930.80" stroke="#de938c" stroke-width="18" fill="none" stroke-linecap="round"/><path d="M726.20,903.10 C728.50,902.33 735.40,898.50 740.00,898.50 C744.60,898.50 749.95,900.03 753.80,903.10 C757.65,906.17 762.32,912.28 763.10,916.90 C763.88,921.52 759.27,928.48 758.50,930.80" stroke="#eea9a1" stroke-width="15.2" fill="none" stroke-linecap="round"/><path d="M737.50,895.50 C739.80,896.27 747.45,897.03 751.30,900.10 C755.15,903.17 759.05,911.60 760.60,913.90" stroke="#f6c7c1" stroke-width="1.4" fill="none" stroke-linecap="round" opacity="0.8"/><path d="M689.20,889.20 C691.52,887.67 698.48,880.00 703.10,880.00 C707.72,880.00 714.22,885.35 716.90,889.20 C719.58,893.05 719.97,899.25 719.20,903.10 C718.43,906.95 713.45,910.77 712.30,912.30" stroke="#de938c" stroke-width="18" fill="none" stroke-linecap="round"/><path d="M689.20,889.20 C691.52,887.67 698.48,880.00 703.10,880.00 C707.72,880.00 714.22,885.35 716.90,889.20 C719.58,893.05 719.97,899.25 719.20,903.10 C718.43,906.95 713.45,910.77 712.30,912.30" stroke="#eea9a1" stroke-width="15.2" fill="none" stroke-linecap="round"/><path d="M700.60,877.00 C702.90,878.53 711.72,882.35 714.40,886.20 C717.08,890.05 716.32,897.78 716.70,900.10" stroke="#f6c7c1" stroke-width="1.4" fill="none" stroke-linecap="round" opacity="0.8"/><path d="M654.60,875.40 C657.68,875.40 668.10,873.10 673.10,875.40 C678.10,877.70 681.92,884.58 684.60,889.20 C687.28,893.82 689.97,899.25 689.20,903.10 C688.43,906.95 681.53,910.77 680.00,912.30" stroke="#de938c" stroke-width="18" fill="none" stroke-linecap="round"/><path d="M654.60,875.40 C657.68,875.40 668.10,873.10 673.10,875.40 C678.10,877.70 681.92,884.58 684.60,889.20 C687.28,893.82 689.97,899.25 689.20,903.10 C688.43,906.95 681.53,910.77 680.00,912.30" stroke="#eea9a1" stroke-width="15.2" fill="none" stroke-linecap="round"/><path d="M670.60,872.40 C672.52,874.70 679.42,881.58 682.10,886.20 C684.78,890.82 685.93,897.78 686.70,900.10" stroke="#f6c7c1" stroke-width="1.4" fill="none" stroke-linecap="round" opacity="0.8"/><path d="M767.70,847.70 C770.00,846.93 777.85,842.33 781.50,843.10 C785.15,843.87 788.43,847.68 789.60,852.30 C790.77,856.92 789.85,866.18 788.50,870.80 C787.15,875.42 782.67,878.47 781.50,880.00" stroke="#de938c" stroke-width="18" fill="none" stroke-linecap="round"/><path d="M767.70,847.70 C770.00,846.93 777.85,842.33 781.50,843.10 C785.15,843.87 788.43,847.68 789.60,852.30 C790.77,856.92 789.85,866.18 788.50,870.80 C787.15,875.42 782.67,878.47 781.50,880.00" stroke="#eea9a1" stroke-width="15.2" fill="none" stroke-linecap="round"/><path d="M779.00,840.10 C780.35,841.63 785.93,844.68 787.10,849.30 C788.27,853.92 786.18,864.72 786.00,867.80" stroke="#f6c7c1" stroke-width="1.4" fill="none" stroke-linecap="round" opacity="0.8"/><path d="M728.50,863.90 C730.80,862.75 737.30,857.40 742.30,857.00 C747.30,856.60 755.42,858.05 758.50,861.50 C761.58,864.95 761.97,873.08 760.80,877.70 C759.63,882.32 755.35,887.28 751.50,889.20 C747.65,891.12 741.15,890.73 737.70,889.20 C734.25,887.67 731.95,881.53 730.80,880.00" stroke="#de938c" stroke-width="18" fill="none" stroke-linecap="round"/><path d="M728.50,863.90 C730.80,862.75 737.30,857.40 742.30,857.00 C747.30,856.60 755.42,858.05 758.50,861.50 C761.58,864.95 761.97,873.08 760.80,877.70 C759.63,882.32 755.35,887.28 751.50,889.20 C747.65,891.12 741.15,890.73 737.70,889.20 C734.25,887.67 731.95,881.53 730.80,880.00" stroke="#eea9a1" stroke-width="15.2" fill="none" stroke-linecap="round"/><path d="M739.80,854.00 C742.50,854.75 752.92,855.05 756.00,858.50 C759.08,861.95 759.47,870.08 758.30,874.70 C757.13,879.32 752.85,884.28 749.00,886.20 C745.15,888.12 737.50,886.20 735.20,886.20" stroke="#f6c7c1" stroke-width="1.4" fill="none" stroke-linecap="round" opacity="0.8"/><path d="M696.20,861.50 C698.12,860.73 703.87,856.90 707.70,856.90 C711.53,856.90 716.90,858.42 719.20,861.50 C721.50,864.58 722.27,871.55 721.50,875.40 C720.73,879.25 717.28,883.45 714.60,884.60 C711.92,885.75 706.93,882.68 705.40,882.30" stroke="#de938c" stroke-width="18" fill="none" stroke-linecap="round"/><path d="M696.20,861.50 C698.12,860.73 703.87,856.90 707.70,856.90 C711.53,856.90 716.90,858.42 719.20,861.50 C721.50,864.58 722.27,871.55 721.50,875.40 C720.73,879.25 717.28,883.45 714.60,884.60 C711.92,885.75 706.93,882.68 705.40,882.30" stroke="#eea9a1" stroke-width="15.2" fill="none" stroke-linecap="round"/><path d="M705.20,853.90 C707.12,854.67 714.40,855.42 716.70,858.50 C719.00,861.58 719.77,868.55 719.00,872.40 C718.23,876.25 713.25,880.07 712.10,881.60" stroke="#f6c7c1" stroke-width="1.4" fill="none" stroke-linecap="round" opacity="0.8"/><path d="M650.00,843.00 C650.77,846.08 652.27,857.33 654.60,861.50 C656.93,865.67 662.43,866.92 664.00,868.00" stroke="#de938c" stroke-width="18" fill="none" stroke-linecap="round"/><path d="M650.00,843.00 C650.77,846.08 652.27,857.33 654.60,861.50 C656.93,865.67 662.43,866.92 664.00,868.00" stroke="#eea9a1" stroke-width="15.2" fill="none" stroke-linecap="round"/><path d="M647.50,840.00 C648.27,843.08 649.77,854.33 652.10,858.50 C654.43,862.67 659.93,863.92 661.50,865.00" stroke="#f6c7c1" stroke-width="1.4" fill="none" stroke-linecap="round" opacity="0.8"/><path d="M671.90,818.80 C670.55,821.70 663.60,830.62 663.80,836.20 C664.00,841.78 668.87,849.23 673.10,852.30 C677.33,855.37 685.35,853.07 689.20,854.60 C693.05,856.13 695.03,860.35 696.20,861.50" stroke="#de938c" stroke-width="18" fill="none" stroke-linecap="round"/><path d="M671.90,818.80 C670.55,821.70 663.60,830.62 663.80,836.20 C664.00,841.78 668.87,849.23 673.10,852.30 C677.33,855.37 685.35,853.07 689.20,854.60 C693.05,856.13 695.03,860.35 696.20,861.50" stroke="#eea9a1" stroke-width="15.2" fill="none" stroke-linecap="round"/><path d="M661.30,833.20 C662.85,835.88 666.37,846.23 670.60,849.30 C674.83,852.37 684.02,851.22 686.70,851.60" stroke="#f6c7c1" stroke-width="1.4" fill="none" stroke-linecap="round" opacity="0.8"/></g>
<path d="M668.00,816.50 C671.33,815.58 679.83,817.75 681.50,820.50 C683.17,823.25 677.58,828.75 678.00,833.00 C678.42,837.25 681.33,842.67 684.00,846.00 C686.67,849.33 689.83,852.00 694.00,853.00 C698.17,854.00 704.83,851.42 709.00,852.00 C713.17,852.58 715.00,856.47 719.00,856.50 C723.00,856.53 728.33,853.08 733.00,852.20 C737.67,851.32 742.67,851.48 747.00,851.20 C751.33,850.92 755.67,851.83 759.00,850.50 C762.33,849.17 763.67,845.23 767.00,843.20 C770.33,841.17 775.27,838.45 779.00,838.30 C782.73,838.15 787.17,840.07 789.40,842.30 C791.63,844.53 792.07,847.15 792.40,851.70 C792.73,856.25 792.07,863.32 791.40,869.60 C790.73,875.88 788.73,882.13 788.40,889.40 C788.07,896.67 789.57,905.92 789.40,913.20 C789.23,920.48 787.40,927.80 787.40,933.10 C787.40,938.40 790.07,940.28 789.40,945.00 C788.73,949.72 787.13,956.35 783.40,961.40 C779.67,966.45 774.35,972.00 767.00,975.30 C759.65,978.60 747.23,980.22 739.30,981.20 C731.37,982.18 726.02,980.53 719.40,981.20 C712.78,981.87 706.30,986.18 699.60,985.20 C692.90,984.22 683.60,979.27 679.20,975.30 C674.80,971.33 676.18,966.37 673.20,961.40 C670.22,956.43 664.27,950.80 661.30,945.50 C658.33,940.20 657.37,934.98 655.40,929.60 C653.43,924.22 649.83,917.92 649.50,913.20 C649.17,908.48 653.23,907.92 653.40,901.30 C653.57,894.68 651.98,880.45 650.50,873.50 C649.02,866.55 645.33,864.23 644.50,859.60 C643.67,854.97 643.92,849.05 645.50,845.70 C647.08,842.35 651.42,840.87 654.00,839.50 C656.58,838.13 659.75,839.75 661.00,837.50 C662.25,835.25 660.33,829.50 661.50,826.00 C662.67,822.50 664.67,817.42 668.00,816.50 Z" fill="none" stroke="#e49a93" stroke-width="1"/></g>
<path d="M337.20,642.20 C334.60,642.13 327.10,641.37 321.60,641.80 C316.10,642.23 309.98,643.30 304.20,644.80 C298.42,646.30 292.68,648.05 286.90,650.80 C281.12,653.55 275.30,656.95 269.50,661.30 C263.70,665.65 257.32,671.12 252.10,676.90 C246.88,682.68 242.25,689.33 238.20,696.00 C234.15,702.67 230.40,709.95 227.80,716.90 C225.20,723.85 223.77,730.52 222.60,737.70 C221.43,744.88 220.95,751.95 220.80,760.00 C220.65,768.05 220.83,777.90 221.70,786.00 C222.57,794.10 224.40,802.22 226.00,808.60 C227.60,814.98 228.68,817.35 231.30,824.30 C233.92,831.25 238.23,841.92 241.70,850.30 C245.17,858.68 248.48,866.32 252.10,874.60 C255.72,882.88 259.22,891.23 263.40,900.00 C267.58,908.77 271.80,917.08 277.20,927.20 C282.60,937.32 289.60,949.83 295.80,960.70 C302.00,971.57 308.18,981.85 314.40,992.40 C320.62,1002.95 326.88,1013.77 333.10,1024.00 C339.32,1034.23 346.00,1044.80 351.70,1053.80 C357.40,1062.80 364.70,1073.97 367.30,1078.00" stroke="#5aad47" stroke-width="3.3" fill="none" stroke-linecap="butt"/>
<path d="M376.80,1091.90 L359.14,1082.28 L374.46,1071.92 Z" fill="#5aad47"/>
<path d="M351.70,816.60 C352.65,812.83 355.63,801.28 357.40,794.00 C359.17,786.72 360.88,781.12 362.30,772.90 C363.72,764.68 365.18,754.12 365.90,744.70 C366.62,735.28 366.60,725.82 366.60,716.40 C366.60,706.98 366.38,695.83 365.90,688.20 C365.42,680.57 364.07,673.53 363.70,670.60" stroke="#5aad47" stroke-width="3.3" fill="none" stroke-linecap="butt"/>
<path d="M312.90,840.80 C302.42,838.93 271.52,833.40 250.00,829.60 C228.48,825.80 194.83,819.93 183.80,818.00" stroke="#5aad47" stroke-width="3.3" fill="none" stroke-linecap="butt"/>
<path d="M142.80,813.00 C140.67,812.77 138.47,811.87 130.00,811.60 C121.53,811.33 101.43,811.07 92.00,811.40 C82.57,811.73 78.98,811.98 73.40,813.60 C67.82,815.22 62.63,818.20 58.50,821.10 C54.37,824.00 51.08,827.68 48.60,831.00 C46.12,834.32 44.63,837.48 43.60,841.00 C42.57,844.52 42.18,848.18 42.40,852.10 C42.62,856.02 43.45,859.95 44.90,864.50 C46.35,869.05 48.62,874.43 51.10,879.40 C53.58,884.37 57.08,889.63 59.80,894.30 C62.52,898.97 63.23,901.07 67.40,907.40 C71.57,913.73 79.37,924.65 84.80,932.30 C90.23,939.95 93.75,945.52 100.00,953.30 C106.25,961.08 114.85,970.98 122.30,979.00 C129.75,987.02 137.25,994.32 144.70,1001.40 C152.15,1008.48 159.57,1015.18 167.00,1021.50 C174.43,1027.82 181.85,1033.72 189.30,1039.30 C196.75,1044.88 204.25,1049.97 211.70,1055.00 C219.15,1060.03 225.95,1064.45 234.00,1069.50 C242.05,1074.55 255.67,1082.67 260.00,1085.30" stroke="#5aad47" stroke-width="3.3" fill="none" stroke-linecap="butt"/>
<path d="M274.70,1094.70 L254.65,1093.10 L264.45,1077.40 Z" fill="#5aad47"/>
<path d="M459.40,834.50 C465.28,835.43 481.38,837.68 494.70,840.10 C508.02,842.52 524.42,845.65 539.30,849.00 C554.18,852.35 570.13,856.23 584.00,860.20 C597.87,864.17 616.08,870.70 622.50,872.80" stroke="#5aad47" stroke-width="3.3" fill="none" stroke-linecap="butt"/>
<path d="M657.40,889.10 C660.03,890.90 668.37,896.17 673.20,899.90 C678.03,903.63 682.25,907.07 686.40,911.50 C690.55,915.93 695.00,920.95 698.10,926.50 C701.20,932.05 703.35,938.72 705.00,944.80 C706.65,950.88 707.67,956.63 708.00,963.00 C708.33,969.37 708.08,976.83 707.00,983.00 C705.92,989.17 703.90,993.85 701.50,1000.00 C699.10,1006.15 695.90,1013.95 692.60,1019.90 C689.30,1025.85 685.50,1030.42 681.70,1035.70 C677.90,1040.98 674.27,1046.30 669.80,1051.60 C665.33,1056.90 660.03,1062.27 654.90,1067.50 C649.77,1072.73 644.90,1077.33 639.00,1083.00 C633.10,1088.67 625.22,1096.43 619.50,1101.50 C613.78,1106.57 609.62,1109.15 604.70,1113.40 C599.78,1117.65 592.45,1124.73 590.00,1127.00" stroke="#5aad47" stroke-width="3.3" fill="none" stroke-linecap="butt"/>
<path d="M575.60,1137.90 L583.83,1120.11 L594.97,1134.89 Z" fill="#5aad47"/>
<circle cx="354.8" cy="652" r="18.8" fill="#fff" stroke="#5aad47" stroke-width="3.5"/><path d="M349.3,652.7 H361.7 M355.5,646.5 V658.9" stroke="#5aad47" stroke-width="2.3"/>
<circle cx="163.3" cy="818" r="18.8" fill="#fff" stroke="#5aad47" stroke-width="3.5"/><path d="M157.8,818.7 H170.2 M164.0,812.5 V824.9" stroke="#5aad47" stroke-width="2.3"/>
<circle cx="641.2" cy="878.5" r="18.8" fill="#fff" stroke="#5aad47" stroke-width="3.5"/><path d="M635.7,879.2 H648.1 M641.9,873.0 V885.4" stroke="#5aad47" stroke-width="2.3"/>

<text x="112.24" y="30" font-size="22" font-weight="bold" fill="#111" textLength="42.25" lengthAdjust="spacingAndGlyphs">Skin</text>
<text x="29.29" y="56" font-size="22" font-weight="normal" fill="#1e1e1e" stroke="#1e1e1e" stroke-width="0.4" textLength="207.30" lengthAdjust="spacingAndGlyphs">7-dehydrocholesterol</text>
<text x="145.12" y="100.4" font-size="22" font-weight="normal" fill="#1e1e1e" stroke="#1e1e1e" stroke-width="0.4" textLength="215.54" lengthAdjust="spacingAndGlyphs">Ultraviolet B radiation</text>
<text x="56.17" y="170.6" font-size="22" font-weight="normal" fill="#1e1e1e" stroke="#1e1e1e" stroke-width="0.4" textLength="134.80" lengthAdjust="spacingAndGlyphs">Pre-vitamin D</text>
<text x="188.78" y="173.7" font-size="15" font-weight="normal" fill="#2a2a2a" textLength="9.04" lengthAdjust="spacingAndGlyphs">3</text>
<text x="231.23" y="150.5" font-size="22" font-weight="normal" fill="#1e1e1e" stroke="#1e1e1e" stroke-width="0.4" textLength="47.78" lengthAdjust="spacingAndGlyphs">Heat</text>
<text x="331.19" y="170.3" font-size="22" font-weight="normal" fill="#1e1e1e" stroke="#1e1e1e" stroke-width="0.4" textLength="96.50" lengthAdjust="spacingAndGlyphs">Vitamin D</text>
<text x="425.65" y="173.3" font-size="15" font-weight="normal" fill="#2a2a2a" textLength="9.73" lengthAdjust="spacingAndGlyphs">3</text>
<text x="651.24" y="30.5" font-size="22" font-weight="bold" fill="#111" textLength="40.52" lengthAdjust="spacingAndGlyphs">Diet</text>
<text x="620.74" y="106.6" font-size="22" font-weight="normal" fill="#1e1e1e" stroke="#1e1e1e" stroke-width="0.4" textLength="96.25" lengthAdjust="spacingAndGlyphs">Vitamin D</text>
<text x="715.87" y="109.6" font-size="14" font-weight="normal" fill="#2a2a2a" textLength="7.95" lengthAdjust="spacingAndGlyphs">2</text>
<text x="639.48" y="133.4" font-size="22" font-weight="normal" fill="#1e1e1e" stroke="#1e1e1e" stroke-width="0.4" textLength="59.35" lengthAdjust="spacingAndGlyphs">and D</text>
<text x="697.00" y="136.4" font-size="15" font-weight="normal" fill="#2a2a2a" textLength="7.79" lengthAdjust="spacingAndGlyphs">3</text>
<text x="490.12" y="183.1" font-size="22" font-weight="normal" fill="#1e1e1e" stroke="#1e1e1e" stroke-width="0.4" textLength="131.43" lengthAdjust="spacingAndGlyphs">Chylomicrons</text>
<text x="162.92" y="287.5" font-size="22" font-weight="bold" fill="#111" textLength="105.67" lengthAdjust="spacingAndGlyphs">Circulation</text>
<text x="338.39" y="287.3" font-size="22" font-weight="normal" fill="#1e1e1e" stroke="#1e1e1e" stroke-width="0.4" textLength="96.09" lengthAdjust="spacingAndGlyphs">Vitamin D</text>
<text x="244.74" y="427.2" font-size="22" font-weight="bold" fill="#111" textLength="47.65" lengthAdjust="spacingAndGlyphs">Liver</text>
<text x="401.31" y="426.2" font-size="22" font-weight="normal" fill="#1e1e1e" stroke="#1e1e1e" stroke-width="0.4" textLength="148.06" lengthAdjust="spacingAndGlyphs">25-hydroxylase</text>
<text x="349.34" y="571" font-size="22" font-weight="normal" fill="#1e1e1e" stroke="#1e1e1e" stroke-width="0.4" textLength="85.63" lengthAdjust="spacingAndGlyphs">25(OH)D</text>
<text x="78.91" y="637.1" font-size="22" font-weight="normal" fill="#66b35a" stroke="#66b35a" stroke-width="0.4" textLength="229.94" lengthAdjust="spacingAndGlyphs">Calcium and phosphate</text>
<text x="130.25" y="658.6" font-size="22" font-weight="normal" fill="#66b35a" stroke="#66b35a" stroke-width="0.4" textLength="126.73" lengthAdjust="spacingAndGlyphs">reabsorption</text>
<text x="270.64" y="709" font-size="22" font-weight="bold" fill="#111" textLength="66.64" lengthAdjust="spacingAndGlyphs">Kidney</text>
<text x="408.74" y="709.5" font-size="22" font-weight="normal" fill="#1e1e1e" stroke="#1e1e1e" stroke-width="0.4" textLength="154.64" lengthAdjust="spacingAndGlyphs">1-α-hydroxylase</text>
<text x="39.59" y="782.8" font-size="22" font-weight="bold" fill="#111" textLength="51.72" lengthAdjust="spacingAndGlyphs">Bone</text>
<text x="705.88" y="795.9" font-size="22" font-weight="bold" fill="#111" textLength="55.39" lengthAdjust="spacingAndGlyphs">Small</text>
<text x="690.59" y="822.5" font-size="22" font-weight="bold" fill="#111" textLength="85.23" lengthAdjust="spacingAndGlyphs">intestine</text>
<text x="335.77" y="845.8" font-size="22" font-weight="normal" fill="#1e1e1e" stroke="#1e1e1e" stroke-width="0.4" textLength="87.85" lengthAdjust="spacingAndGlyphs">1,25(OH)</text>
<text x="422.35" y="849.6" font-size="15" font-weight="normal" fill="#2a2a2a" textLength="8.62" lengthAdjust="spacingAndGlyphs">2</text>
<text x="429.72" y="845.8" font-size="22" font-weight="normal" fill="#1e1e1e" stroke="#1e1e1e" stroke-width="0.4" textLength="16.42" lengthAdjust="spacingAndGlyphs">D</text>
<text x="110.83" y="908.4" font-size="22" font-weight="normal" fill="#66b35a" stroke="#66b35a" stroke-width="0.4" textLength="119.92" lengthAdjust="spacingAndGlyphs">Calcium and</text>
<text x="118.27" y="931.2" font-size="22" font-weight="normal" fill="#66b35a" stroke="#66b35a" stroke-width="0.4" textLength="104.51" lengthAdjust="spacingAndGlyphs">phosphate</text>
<text x="119.22" y="954.4" font-size="22" font-weight="normal" fill="#66b35a" stroke="#66b35a" stroke-width="0.4" textLength="102.89" lengthAdjust="spacingAndGlyphs">resorption</text>
<text x="532.02" y="946.9" font-size="22" font-weight="normal" fill="#66b35a" stroke="#66b35a" stroke-width="0.4" textLength="120.33" lengthAdjust="spacingAndGlyphs">Calcium and</text>
<text x="540.17" y="969.5" font-size="22" font-weight="normal" fill="#66b35a" stroke="#66b35a" stroke-width="0.4" textLength="104.82" lengthAdjust="spacingAndGlyphs">phosphate</text>
<text x="538.94" y="992.1" font-size="22" font-weight="normal" fill="#66b35a" stroke="#66b35a" stroke-width="0.4" textLength="106.55" lengthAdjust="spacingAndGlyphs">absorption</text>
<text x="51.06" y="1016.8" font-size="22" font-weight="normal" fill="#1e1e1e" stroke="#1e1e1e" stroke-width="0.4" textLength="52.14" lengthAdjust="spacingAndGlyphs">Bone</text>
<text x="8.46" y="1039.6" font-size="22" font-weight="normal" fill="#1e1e1e" stroke="#1e1e1e" stroke-width="0.4" textLength="139.10" lengthAdjust="spacingAndGlyphs">mineralisation</text>
<text x="251.81" y="1149.7" font-size="22" font-weight="normal" fill="#1e1e1e" stroke="#1e1e1e" stroke-width="0.4" textLength="230.14" lengthAdjust="spacingAndGlyphs">Calcium and phosphate</text>
</svg></body></html>
